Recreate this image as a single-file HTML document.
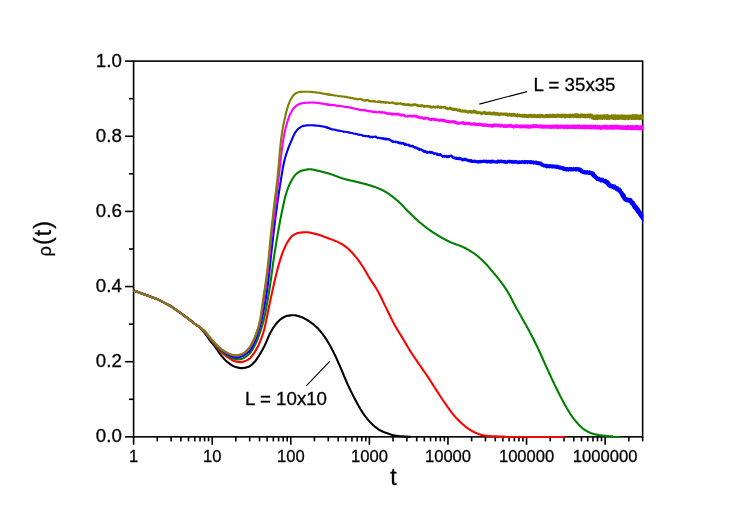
<!DOCTYPE html>
<html><head><meta charset="utf-8"><title>rho(t)</title>
<style>
html,body{margin:0;padding:0;background:#fff;}
body{width:747px;height:524px;overflow:hidden;}
svg{display:block;font-family:"Liberation Sans",sans-serif;}
.tx{stroke:#000;stroke-width:0.3px;filter:grayscale(1);}
</style></head>
<body>
<svg width="747" height="524" viewBox="0 0 747 524">
<rect x="0" y="0" width="747" height="524" fill="#ffffff"/>
<g stroke="#000" stroke-width="1.6" stroke-linecap="butt">
<rect x="133.60" y="61.10" width="509.04" height="375.75" fill="none"/>
<line x1="125.1" y1="436.85" x2="133.6" y2="436.85"/>
<line x1="129.0" y1="399.28" x2="133.6" y2="399.28"/>
<line x1="125.1" y1="361.70" x2="133.6" y2="361.70"/>
<line x1="129.0" y1="324.12" x2="133.6" y2="324.12"/>
<line x1="125.1" y1="286.55" x2="133.6" y2="286.55"/>
<line x1="129.0" y1="248.98" x2="133.6" y2="248.98"/>
<line x1="125.1" y1="211.40" x2="133.6" y2="211.40"/>
<line x1="129.0" y1="173.83" x2="133.6" y2="173.83"/>
<line x1="125.1" y1="136.25" x2="133.6" y2="136.25"/>
<line x1="129.0" y1="98.68" x2="133.6" y2="98.68"/>
<line x1="125.1" y1="61.10" x2="133.6" y2="61.10"/>
<line x1="133.60" y1="436.9" x2="133.60" y2="444.8"/>
<line x1="157.26" y1="436.9" x2="157.26" y2="441.4"/>
<line x1="171.10" y1="436.9" x2="171.10" y2="441.4"/>
<line x1="180.92" y1="436.9" x2="180.92" y2="441.4"/>
<line x1="188.53" y1="436.9" x2="188.53" y2="441.4"/>
<line x1="194.75" y1="436.9" x2="194.75" y2="441.4"/>
<line x1="200.02" y1="436.9" x2="200.02" y2="441.4"/>
<line x1="204.57" y1="436.9" x2="204.57" y2="441.4"/>
<line x1="208.59" y1="436.9" x2="208.59" y2="441.4"/>
<line x1="212.19" y1="436.9" x2="212.19" y2="444.8"/>
<line x1="235.85" y1="436.9" x2="235.85" y2="441.4"/>
<line x1="249.69" y1="436.9" x2="249.69" y2="441.4"/>
<line x1="259.51" y1="436.9" x2="259.51" y2="441.4"/>
<line x1="267.12" y1="436.9" x2="267.12" y2="441.4"/>
<line x1="273.34" y1="436.9" x2="273.34" y2="441.4"/>
<line x1="278.61" y1="436.9" x2="278.61" y2="441.4"/>
<line x1="283.16" y1="436.9" x2="283.16" y2="441.4"/>
<line x1="287.18" y1="436.9" x2="287.18" y2="441.4"/>
<line x1="290.78" y1="436.9" x2="290.78" y2="444.8"/>
<line x1="314.44" y1="436.9" x2="314.44" y2="441.4"/>
<line x1="328.28" y1="436.9" x2="328.28" y2="441.4"/>
<line x1="338.10" y1="436.9" x2="338.10" y2="441.4"/>
<line x1="345.71" y1="436.9" x2="345.71" y2="441.4"/>
<line x1="351.93" y1="436.9" x2="351.93" y2="441.4"/>
<line x1="357.20" y1="436.9" x2="357.20" y2="441.4"/>
<line x1="361.75" y1="436.9" x2="361.75" y2="441.4"/>
<line x1="365.77" y1="436.9" x2="365.77" y2="441.4"/>
<line x1="369.37" y1="436.9" x2="369.37" y2="444.8"/>
<line x1="393.03" y1="436.9" x2="393.03" y2="441.4"/>
<line x1="406.87" y1="436.9" x2="406.87" y2="441.4"/>
<line x1="416.69" y1="436.9" x2="416.69" y2="441.4"/>
<line x1="424.30" y1="436.9" x2="424.30" y2="441.4"/>
<line x1="430.52" y1="436.9" x2="430.52" y2="441.4"/>
<line x1="435.79" y1="436.9" x2="435.79" y2="441.4"/>
<line x1="440.34" y1="436.9" x2="440.34" y2="441.4"/>
<line x1="444.36" y1="436.9" x2="444.36" y2="441.4"/>
<line x1="447.96" y1="436.9" x2="447.96" y2="444.8"/>
<line x1="471.62" y1="436.9" x2="471.62" y2="441.4"/>
<line x1="485.46" y1="436.9" x2="485.46" y2="441.4"/>
<line x1="495.28" y1="436.9" x2="495.28" y2="441.4"/>
<line x1="502.89" y1="436.9" x2="502.89" y2="441.4"/>
<line x1="509.11" y1="436.9" x2="509.11" y2="441.4"/>
<line x1="514.38" y1="436.9" x2="514.38" y2="441.4"/>
<line x1="518.93" y1="436.9" x2="518.93" y2="441.4"/>
<line x1="522.95" y1="436.9" x2="522.95" y2="441.4"/>
<line x1="526.55" y1="436.9" x2="526.55" y2="444.8"/>
<line x1="550.21" y1="436.9" x2="550.21" y2="441.4"/>
<line x1="564.05" y1="436.9" x2="564.05" y2="441.4"/>
<line x1="573.87" y1="436.9" x2="573.87" y2="441.4"/>
<line x1="581.48" y1="436.9" x2="581.48" y2="441.4"/>
<line x1="587.70" y1="436.9" x2="587.70" y2="441.4"/>
<line x1="592.97" y1="436.9" x2="592.97" y2="441.4"/>
<line x1="597.52" y1="436.9" x2="597.52" y2="441.4"/>
<line x1="601.54" y1="436.9" x2="601.54" y2="441.4"/>
<line x1="605.14" y1="436.9" x2="605.14" y2="444.8"/>
<line x1="628.80" y1="436.9" x2="628.80" y2="441.4"/>
<line x1="642.64" y1="436.9" x2="642.64" y2="441.4"/>
</g>
<clipPath id="cp"><rect x="132.9" y="59.1" width="510.5" height="379.8"/></clipPath>
<g clip-path="url(#cp)">
<path d="M133.6,290.5 L156.9,298.9 L170.8,306.1 L180.6,313.0 L188.2,318.6 L194.4,323.5 L199.7,327.2 L204.3,332.5 L205.0,333.4 L205.5,334.1 L206.0,334.8 L206.5,335.5 L207.0,336.2 L207.5,337.0 L208.0,337.7 L208.5,338.4 L209.0,339.1 L209.5,339.8 L210.0,340.5 L210.5,341.1 L211.0,341.8 L211.5,342.4 L212.0,343.0 L212.5,343.6 L213.0,344.2 L213.5,344.8 L214.0,345.4 L214.5,346.1 L215.0,346.7 L215.5,347.4 L216.0,348.1 L216.5,348.8 L217.0,349.5 L217.5,350.3 L218.0,351.0 L218.5,351.7 L219.0,352.5 L219.5,353.2 L220.0,353.9 L220.5,354.6 L221.0,355.2 L221.5,355.9 L222.0,356.4 L222.5,357.0 L223.0,357.6 L223.5,358.2 L224.0,358.7 L224.5,359.2 L225.0,359.8 L225.5,360.3 L226.0,360.7 L226.5,361.2 L227.0,361.7 L227.5,362.1 L228.0,362.5 L228.5,362.9 L229.0,363.2 L229.5,363.6 L230.0,364.0 L230.5,364.3 L231.0,364.7 L231.5,365.0 L232.0,365.3 L232.5,365.6 L233.0,365.9 L233.5,366.2 L234.0,366.4 L234.5,366.6 L235.0,366.8 L235.5,366.9 L236.0,367.1 L236.5,367.2 L237.0,367.3 L237.5,367.5 L238.0,367.6 L238.5,367.7 L239.0,367.8 L239.5,367.9 L240.0,368.0 L240.5,368.0 L241.0,368.1 L241.5,368.1 L242.0,368.1 L242.5,368.1 L243.0,368.0 L243.5,368.0 L244.0,367.9 L244.5,367.8 L245.0,367.7 L245.5,367.6 L246.0,367.5 L246.5,367.4 L247.0,367.2 L247.5,367.1 L248.0,366.9 L248.5,366.8 L249.0,366.6 L249.5,366.3 L250.0,366.0 L250.5,365.7 L251.0,365.3 L251.5,364.9 L252.0,364.5 L252.5,364.0 L253.0,363.6 L253.5,363.1 L254.0,362.6 L254.5,362.1 L255.0,361.5 L255.5,360.8 L256.0,360.1 L256.5,359.4 L257.0,358.7 L257.5,357.9 L258.0,357.1 L258.5,356.3 L259.0,355.6 L259.5,354.8 L260.0,354.0 L260.5,353.1 L261.0,352.3 L261.5,351.5 L262.0,350.6 L262.5,349.7 L263.0,348.8 L263.5,347.8 L264.0,346.9 L264.5,345.9 L265.0,344.9 L265.5,343.8 L266.0,342.7 L266.5,341.5 L267.0,340.3 L267.5,339.1 L268.0,337.9 L268.5,336.7 L269.0,335.6 L269.5,334.5 L270.0,333.4 L270.5,332.5 L271.0,331.6 L271.5,330.7 L272.0,329.8 L272.5,329.0 L273.0,328.2 L273.5,327.4 L274.0,326.7 L274.5,326.0 L275.0,325.3 L275.5,324.6 L276.0,324.0 L276.5,323.4 L277.0,322.8 L277.5,322.3 L278.0,321.7 L278.5,321.2 L279.0,320.7 L279.5,320.2 L280.0,319.8 L280.5,319.4 L281.0,319.0 L281.5,318.6 L282.0,318.3 L282.5,318.0 L283.0,317.7 L283.5,317.4 L284.0,317.1 L284.5,316.8 L285.0,316.6 L285.5,316.4 L286.0,316.2 L286.5,316.0 L287.0,315.9 L287.5,315.8 L288.0,315.8 L288.5,315.7 L289.0,315.6 L289.5,315.5 L290.0,315.4 L290.5,315.4 L291.0,315.3 L291.5,315.3 L292.0,315.2 L292.5,315.2 L293.0,315.2 L293.5,315.2 L294.0,315.2 L294.5,315.3 L295.0,315.3 L295.5,315.4 L296.0,315.5 L296.5,315.6 L297.0,315.7 L297.5,315.8 L298.0,316.0 L298.5,316.1 L299.0,316.3 L299.5,316.4 L300.0,316.6 L300.5,316.7 L301.0,316.9 L301.5,317.1 L302.0,317.3 L302.5,317.5 L303.0,317.7 L303.5,318.0 L304.0,318.2 L304.5,318.5 L305.0,318.8 L305.5,319.1 L306.0,319.3 L306.5,319.6 L307.0,319.9 L307.5,320.2 L308.0,320.5 L308.5,320.8 L309.0,321.2 L309.5,321.5 L310.0,321.8 L310.5,322.2 L311.0,322.5 L311.5,322.9 L312.0,323.3 L312.5,323.6 L313.0,324.0 L313.5,324.4 L314.0,324.8 L314.5,325.3 L315.0,325.7 L315.5,326.2 L316.0,326.6 L316.5,327.1 L317.0,327.6 L317.5,328.1 L318.0,328.6 L318.5,329.1 L319.0,329.7 L319.5,330.2 L320.0,330.8 L320.5,331.4 L321.0,332.0 L321.5,332.7 L322.0,333.3 L322.5,333.9 L323.0,334.6 L323.5,335.3 L324.0,336.0 L324.5,336.7 L325.0,337.4 L325.5,338.1 L326.0,338.9 L326.5,339.6 L327.0,340.4 L327.5,341.3 L328.0,342.1 L328.5,342.9 L329.0,343.8 L329.5,344.7 L330.0,345.6 L330.5,346.5 L331.0,347.4 L331.5,348.3 L332.0,349.2 L332.5,350.2 L333.0,351.1 L333.5,352.1 L334.0,353.1 L334.5,354.2 L335.0,355.2 L335.5,356.3 L336.0,357.4 L336.5,358.5 L337.0,359.6 L337.5,360.7 L338.0,361.8 L338.5,363.0 L339.0,364.1 L339.5,365.2 L340.0,366.4 L340.5,367.5 L341.0,368.6 L341.5,369.8 L342.0,371.0 L342.5,372.1 L343.0,373.3 L343.5,374.5 L344.0,375.8 L344.5,377.0 L345.0,378.2 L345.5,379.3 L346.0,380.5 L346.5,381.7 L347.0,382.8 L347.5,384.0 L348.0,385.1 L348.5,386.1 L349.0,387.2 L349.5,388.3 L350.0,389.3 L350.5,390.4 L351.0,391.4 L351.5,392.4 L352.0,393.4 L352.5,394.4 L353.0,395.4 L353.5,396.4 L354.0,397.4 L354.5,398.3 L355.0,399.3 L355.5,400.2 L356.0,401.1 L356.5,402.0 L357.0,403.0 L357.5,403.9 L358.0,404.8 L358.5,405.7 L359.0,406.6 L359.5,407.4 L360.0,408.3 L360.5,409.2 L361.0,410.0 L361.5,410.8 L362.0,411.6 L362.5,412.4 L363.0,413.2 L363.5,413.9 L364.0,414.6 L364.5,415.3 L365.0,416.0 L365.5,416.6 L366.0,417.3 L366.5,417.9 L367.0,418.6 L367.5,419.2 L368.0,419.8 L368.5,420.3 L369.0,420.9 L369.5,421.5 L370.0,422.0 L370.5,422.5 L371.0,423.0 L371.5,423.5 L372.0,424.0 L372.5,424.5 L373.0,424.9 L373.5,425.4 L374.0,425.8 L374.5,426.3 L375.0,426.7 L375.5,427.1 L376.0,427.5 L376.5,427.9 L377.0,428.3 L377.5,428.7 L378.0,429.0 L378.5,429.4 L379.0,429.7 L379.5,430.0 L380.0,430.3 L380.5,430.6 L381.0,430.8 L381.5,431.0 L382.0,431.3 L382.5,431.5 L383.0,431.7 L383.5,431.9 L384.0,432.1 L384.5,432.3 L385.0,432.5 L385.5,432.7 L386.0,432.8 L386.5,433.0 L387.0,433.2 L387.5,433.4 L388.0,433.5 L388.5,433.7 L389.0,433.9 L389.5,434.1 L390.0,434.2 L390.5,434.4 L391.0,434.6 L391.5,434.8 L392.0,434.9 L392.5,435.1 L393.0,435.2 L393.5,435.3 L394.0,435.4 L394.5,435.5 L395.0,435.6 L395.5,435.7 L396.0,435.8 L396.5,435.8 L397.0,435.9 L397.5,436.0 L398.0,436.0 L398.5,436.1 L399.0,436.1 L399.5,436.2 L400.0,436.2 L400.5,436.2 L401.0,436.3 L401.5,436.3 L402.0,436.3 L402.5,436.4 L403.0,436.4 L403.5,436.4 L404.0,436.5 L404.5,436.5 L405.0,436.5 L405.5,436.5 L406.0,436.6 L406.5,436.6 L407.0,436.6 L407.5,436.6 L408.0,436.7 L408.5,436.7 L409.0,436.7 L409.5,436.8 L410.0,436.8 L410.5,436.8 L411.0,436.8" fill="none" stroke="#000000" stroke-width="2.1" stroke-linejoin="round" stroke-linecap="butt"/>
<path d="M133.6,290.5 L156.9,298.9 L170.8,306.1 L180.6,313.0 L188.2,318.6 L194.4,323.5 L199.7,327.2 L204.3,331.7 L205.0,332.5 L205.5,333.1 L206.0,333.7 L206.5,334.4 L207.0,335.1 L207.5,335.7 L208.0,336.4 L208.5,337.1 L209.0,337.7 L209.5,338.4 L210.0,339.0 L210.5,339.6 L211.0,340.2 L211.5,340.8 L212.0,341.4 L212.5,342.0 L213.0,342.6 L213.5,343.2 L214.0,343.8 L214.5,344.4 L215.0,345.0 L215.5,345.6 L216.0,346.2 L216.5,346.8 L217.0,347.4 L217.5,348.0 L218.0,348.5 L218.5,349.1 L219.0,349.7 L219.5,350.3 L220.0,350.8 L220.5,351.3 L221.0,351.8 L221.5,352.3 L222.0,352.8 L222.5,353.2 L223.0,353.7 L223.5,354.1 L224.0,354.5 L224.5,354.9 L225.0,355.3 L225.5,355.7 L226.0,356.0 L226.5,356.4 L227.0,356.8 L227.5,357.1 L228.0,357.4 L228.5,357.8 L229.0,358.1 L229.5,358.4 L230.0,358.8 L230.5,359.1 L231.0,359.4 L231.5,359.7 L232.0,360.0 L232.5,360.3 L233.0,360.6 L233.5,360.8 L234.0,361.0 L234.5,361.2 L235.0,361.3 L235.5,361.4 L236.0,361.5 L236.5,361.6 L237.0,361.7 L237.5,361.8 L238.0,361.9 L238.5,362.0 L239.0,362.0 L239.5,362.1 L240.0,362.1 L240.5,362.1 L241.0,362.1 L241.5,362.0 L242.0,362.0 L242.5,361.9 L243.0,361.7 L243.5,361.6 L244.0,361.4 L244.5,361.2 L245.0,361.1 L245.5,360.8 L246.0,360.6 L246.5,360.4 L247.0,360.1 L247.5,359.9 L248.0,359.6 L248.5,359.3 L249.0,359.0 L249.5,358.6 L250.0,358.2 L250.5,357.7 L251.0,357.1 L251.5,356.5 L252.0,355.9 L252.5,355.2 L253.0,354.5 L253.5,353.8 L254.0,353.1 L254.5,352.3 L255.0,351.6 L255.5,350.8 L256.0,349.9 L256.5,349.1 L257.0,348.1 L257.5,347.2 L258.0,346.1 L258.5,345.1 L259.0,344.0 L259.5,342.8 L260.0,341.7 L260.5,340.5 L261.0,339.2 L261.5,337.9 L262.0,336.5 L262.5,335.0 L263.0,333.5 L263.5,331.9 L264.0,330.2 L264.5,328.3 L265.0,326.2 L265.5,323.9 L266.0,321.4 L266.5,319.1 L267.0,316.7 L267.5,314.2 L268.0,311.8 L268.5,309.3 L269.0,306.8 L269.5,304.4 L270.0,302.1 L270.5,299.7 L271.0,297.3 L271.5,295.0 L272.0,292.7 L272.5,290.4 L273.0,288.1 L273.5,285.9 L274.0,283.7 L274.5,281.5 L275.0,279.4 L275.5,277.3 L276.0,275.2 L276.5,273.2 L277.0,271.2 L277.5,269.2 L278.0,267.3 L278.5,265.5 L279.0,263.8 L279.5,262.1 L280.0,260.4 L280.5,258.8 L281.0,257.3 L281.5,255.8 L282.0,254.3 L282.5,252.9 L283.0,251.6 L283.5,250.4 L284.0,249.2 L284.5,248.1 L285.0,247.0 L285.5,245.9 L286.0,244.9 L286.5,243.9 L287.0,243.0 L287.5,242.2 L288.0,241.4 L288.5,240.6 L289.0,239.8 L289.5,239.1 L290.0,238.4 L290.5,237.7 L291.0,237.1 L291.5,236.5 L292.0,236.0 L292.5,235.6 L293.0,235.3 L293.5,235.0 L294.0,234.7 L294.5,234.4 L295.0,234.2 L295.5,233.9 L296.0,233.7 L296.5,233.5 L297.0,233.3 L297.5,233.1 L298.0,233.0 L298.5,232.9 L299.0,232.8 L299.5,232.7 L300.0,232.7 L300.5,232.6 L301.0,232.6 L301.5,232.5 L302.0,232.5 L302.5,232.4 L303.0,232.4 L303.5,232.4 L304.0,232.4 L304.5,232.3 L305.0,232.3 L305.5,232.3 L306.0,232.3 L306.5,232.3 L307.0,232.3 L307.5,232.3 L308.0,232.4 L308.5,232.4 L309.0,232.5 L309.5,232.6 L310.0,232.6 L310.5,232.7 L311.0,232.8 L311.5,232.9 L312.0,233.1 L312.5,233.2 L313.0,233.3 L313.5,233.4 L314.0,233.5 L314.5,233.6 L315.0,233.8 L315.5,233.9 L316.0,234.0 L316.5,234.1 L317.0,234.3 L317.5,234.4 L318.0,234.5 L318.5,234.7 L319.0,234.9 L319.5,235.0 L320.0,235.2 L320.5,235.4 L321.0,235.5 L321.5,235.7 L322.0,235.9 L322.5,236.1 L323.0,236.3 L323.5,236.5 L324.0,236.7 L324.5,236.9 L325.0,237.1 L325.5,237.2 L326.0,237.4 L326.5,237.6 L327.0,237.8 L327.5,238.0 L328.0,238.2 L328.5,238.3 L329.0,238.5 L329.5,238.7 L330.0,238.9 L330.5,239.1 L331.0,239.2 L331.5,239.4 L332.0,239.6 L332.5,239.8 L333.0,240.0 L333.5,240.2 L334.0,240.4 L334.5,240.6 L335.0,240.8 L335.5,241.0 L336.0,241.2 L336.5,241.4 L337.0,241.6 L337.5,241.9 L338.0,242.1 L338.5,242.3 L339.0,242.6 L339.5,242.8 L340.0,243.1 L340.5,243.4 L341.0,243.7 L341.5,243.9 L342.0,244.2 L342.5,244.5 L343.0,244.8 L343.5,245.2 L344.0,245.5 L344.5,245.8 L345.0,246.2 L345.5,246.5 L346.0,246.9 L346.5,247.3 L347.0,247.7 L347.5,248.1 L348.0,248.5 L348.5,249.0 L349.0,249.5 L349.5,250.0 L350.0,250.5 L350.5,251.0 L351.0,251.5 L351.5,252.0 L352.0,252.6 L352.5,253.1 L353.0,253.7 L353.5,254.2 L354.0,254.8 L354.5,255.4 L355.0,255.9 L355.5,256.6 L356.0,257.2 L356.5,257.8 L357.0,258.4 L357.5,259.1 L358.0,259.8 L358.5,260.4 L359.0,261.1 L359.5,261.8 L360.0,262.5 L360.5,263.3 L361.0,264.0 L361.5,264.7 L362.0,265.5 L362.5,266.2 L363.0,267.0 L363.5,267.8 L364.0,268.6 L364.5,269.4 L365.0,270.3 L365.5,271.1 L366.0,272.0 L366.5,272.9 L367.0,273.7 L367.5,274.6 L368.0,275.5 L368.5,276.3 L369.0,277.2 L369.5,278.0 L370.0,278.8 L370.5,279.6 L371.0,280.4 L371.5,281.2 L372.0,281.9 L372.5,282.7 L373.0,283.4 L373.5,284.2 L374.0,284.9 L374.5,285.7 L375.0,286.4 L375.5,287.2 L376.0,288.0 L376.5,288.8 L377.0,289.7 L377.5,290.5 L378.0,291.4 L378.5,292.4 L379.0,293.3 L379.5,294.3 L380.0,295.3 L380.5,296.3 L381.0,297.3 L381.5,298.3 L382.0,299.3 L382.5,300.4 L383.0,301.4 L383.5,302.5 L384.0,303.5 L384.5,304.6 L385.0,305.6 L385.5,306.6 L386.0,307.6 L386.5,308.6 L387.0,309.6 L387.5,310.7 L388.0,311.7 L388.5,312.7 L389.0,313.8 L389.5,314.8 L390.0,315.8 L390.5,316.9 L391.0,317.9 L391.5,318.9 L392.0,319.9 L392.5,320.9 L393.0,321.9 L393.5,322.8 L394.0,323.7 L394.5,324.7 L395.0,325.6 L395.5,326.4 L396.0,327.3 L396.5,328.2 L397.0,329.0 L397.5,329.9 L398.0,330.7 L398.5,331.5 L399.0,332.3 L399.5,333.1 L400.0,334.0 L400.5,334.8 L401.0,335.6 L401.5,336.4 L402.0,337.2 L402.5,338.0 L403.0,338.9 L403.5,339.7 L404.0,340.5 L404.5,341.4 L405.0,342.2 L405.5,343.1 L406.0,343.9 L406.5,344.8 L407.0,345.6 L407.5,346.5 L408.0,347.3 L408.5,348.1 L409.0,349.0 L409.5,349.8 L410.0,350.6 L410.5,351.4 L411.0,352.2 L411.5,353.0 L412.0,353.8 L412.5,354.5 L413.0,355.3 L413.5,356.0 L414.0,356.8 L414.5,357.5 L415.0,358.2 L415.5,359.0 L416.0,359.7 L416.5,360.4 L417.0,361.1 L417.5,361.8 L418.0,362.6 L418.5,363.3 L419.0,364.0 L419.5,364.7 L420.0,365.5 L420.5,366.2 L421.0,366.9 L421.5,367.6 L422.0,368.4 L422.5,369.1 L423.0,369.8 L423.5,370.5 L424.0,371.3 L424.5,372.0 L425.0,372.7 L425.5,373.5 L426.0,374.2 L426.5,374.9 L427.0,375.7 L427.5,376.4 L428.0,377.1 L428.5,377.9 L429.0,378.7 L429.5,379.4 L430.0,380.2 L430.5,381.0 L431.0,381.7 L431.5,382.5 L432.0,383.3 L432.5,384.1 L433.0,384.9 L433.5,385.7 L434.0,386.5 L434.5,387.2 L435.0,388.0 L435.5,388.8 L436.0,389.6 L436.5,390.4 L437.0,391.1 L437.5,391.9 L438.0,392.7 L438.5,393.4 L439.0,394.2 L439.5,395.0 L440.0,395.7 L440.5,396.5 L441.0,397.3 L441.5,398.0 L442.0,398.8 L442.5,399.5 L443.0,400.3 L443.5,401.0 L444.0,401.8 L444.5,402.5 L445.0,403.2 L445.5,403.9 L446.0,404.6 L446.5,405.4 L447.0,406.1 L447.5,406.8 L448.0,407.5 L448.5,408.2 L449.0,408.9 L449.5,409.6 L450.0,410.3 L450.5,411.0 L451.0,411.6 L451.5,412.3 L452.0,413.0 L452.5,413.6 L453.0,414.2 L453.5,414.8 L454.0,415.4 L454.5,416.0 L455.0,416.6 L455.5,417.1 L456.0,417.7 L456.5,418.2 L457.0,418.8 L457.5,419.3 L458.0,419.8 L458.5,420.3 L459.0,420.8 L459.5,421.3 L460.0,421.8 L460.5,422.3 L461.0,422.7 L461.5,423.2 L462.0,423.6 L462.5,424.1 L463.0,424.5 L463.5,424.9 L464.0,425.3 L464.5,425.8 L465.0,426.2 L465.5,426.6 L466.0,427.0 L466.5,427.4 L467.0,427.8 L467.5,428.1 L468.0,428.5 L468.5,428.8 L469.0,429.2 L469.5,429.5 L470.0,429.8 L470.5,430.1 L471.0,430.4 L471.5,430.7 L472.0,431.0 L472.5,431.3 L473.0,431.5 L473.5,431.8 L474.0,432.1 L474.5,432.3 L475.0,432.6 L475.5,432.8 L476.0,433.0 L476.5,433.2 L477.0,433.4 L477.5,433.6 L478.0,433.8 L478.5,434.0 L479.0,434.1 L479.5,434.3 L480.0,434.5 L480.5,434.6 L481.0,434.8 L481.5,434.9 L482.0,435.0 L482.5,435.2 L483.0,435.3 L483.5,435.4 L484.0,435.5 L484.5,435.6 L485.0,435.7 L485.5,435.7 L486.0,435.8 L486.5,435.8 L487.0,435.9 L487.5,435.9 L488.0,436.0 L488.5,436.0 L489.0,436.1 L489.5,436.1 L490.0,436.1 L490.5,436.2 L491.0,436.2 L491.5,436.2 L492.0,436.2 L492.5,436.3 L493.0,436.3 L493.5,436.3 L494.0,436.3 L494.5,436.4 L495.0,436.4 L495.5,436.4 L496.0,436.4 L496.5,436.4 L497.0,436.4 L497.5,436.5 L498.0,436.5 L498.5,436.5 L499.0,436.5 L499.5,436.5 L500.0,436.5 L500.5,436.5 L501.0,436.5 L501.5,436.6 L502.0,436.6 L502.5,436.6 L503.0,436.6 L503.5,436.6 L504.0,436.6 L504.5,436.6 L505.0,436.6" fill="none" stroke="#ff0000" stroke-width="2.1" stroke-linejoin="round" stroke-linecap="butt"/>
<path d="M133.6,290.5 L156.9,298.9 L170.8,306.1 L180.6,313.0 L188.2,318.6 L194.4,323.5 L199.7,327.2 L204.3,331.3 L205.0,332.1 L205.5,332.6 L206.0,333.3 L206.5,333.9 L207.0,334.5 L207.5,335.2 L208.0,335.9 L208.5,336.5 L209.0,337.2 L209.5,337.8 L210.0,338.4 L210.5,339.0 L211.0,339.6 L211.5,340.2 L212.0,340.8 L212.5,341.4 L213.0,342.0 L213.5,342.5 L214.0,343.1 L214.5,343.7 L215.0,344.2 L215.5,344.7 L216.0,345.3 L216.5,345.8 L217.0,346.4 L217.5,346.9 L218.0,347.4 L218.5,347.9 L219.0,348.5 L219.5,349.0 L220.0,349.4 L220.5,349.9 L221.0,350.4 L221.5,350.8 L222.0,351.3 L222.5,351.7 L223.0,352.1 L223.5,352.5 L224.0,352.9 L224.5,353.3 L225.0,353.7 L225.5,354.1 L226.0,354.4 L226.5,354.8 L227.0,355.1 L227.5,355.4 L228.0,355.8 L228.5,356.1 L229.0,356.4 L229.5,356.7 L230.0,357.0 L230.5,357.3 L231.0,357.6 L231.5,357.8 L232.0,358.1 L232.5,358.3 L233.0,358.5 L233.5,358.7 L234.0,358.8 L234.5,358.9 L235.0,359.0 L235.5,359.1 L236.0,359.1 L236.5,359.2 L237.0,359.3 L237.5,359.3 L238.0,359.4 L238.5,359.4 L239.0,359.4 L239.5,359.4 L240.0,359.3 L240.5,359.3 L241.0,359.1 L241.5,359.0 L242.0,358.8 L242.5,358.6 L243.0,358.4 L243.5,358.1 L244.0,357.8 L244.5,357.5 L245.0,357.2 L245.5,356.9 L246.0,356.5 L246.5,356.1 L247.0,355.8 L247.5,355.4 L248.0,355.0 L248.5,354.6 L249.0,354.2 L249.5,353.7 L250.0,353.1 L250.5,352.5 L251.0,351.8 L251.5,351.0 L252.0,350.2 L252.5,349.4 L253.0,348.6 L253.5,347.7 L254.0,346.8 L254.5,345.8 L255.0,344.9 L255.5,343.9 L256.0,342.9 L256.5,341.8 L257.0,340.6 L257.5,339.4 L258.0,338.1 L258.5,336.8 L259.0,335.4 L259.5,334.0 L260.0,332.6 L260.5,331.1 L261.0,329.6 L261.5,328.0 L262.0,326.3 L262.5,324.6 L263.0,322.8 L263.5,320.9 L264.0,318.8 L264.5,316.7 L265.0,314.4 L265.5,312.0 L266.0,309.4 L266.5,306.7 L267.0,303.9 L267.5,301.0 L268.0,298.1 L268.5,295.0 L269.0,292.0 L269.5,288.9 L270.0,285.7 L270.5,282.4 L271.0,278.9 L271.5,275.2 L272.0,271.5 L272.5,267.8 L273.0,264.1 L273.5,260.5 L274.0,257.0 L274.5,253.7 L275.0,250.5 L275.5,247.4 L276.0,244.3 L276.5,241.3 L277.0,238.3 L277.5,235.4 L278.0,232.5 L278.5,229.7 L279.0,226.9 L279.5,224.2 L280.0,221.5 L280.5,218.9 L281.0,216.4 L281.5,213.9 L282.0,211.4 L282.5,209.1 L283.0,206.7 L283.5,204.3 L284.0,202.0 L284.5,199.8 L285.0,197.7 L285.5,195.8 L286.0,194.1 L286.5,192.5 L287.0,191.0 L287.5,189.6 L288.0,188.2 L288.5,186.9 L289.0,185.7 L289.5,184.6 L290.0,183.5 L290.5,182.5 L291.0,181.5 L291.5,180.6 L292.0,179.7 L292.5,178.8 L293.0,178.0 L293.5,177.2 L294.0,176.5 L294.5,175.8 L295.0,175.2 L295.5,174.7 L296.0,174.2 L296.5,173.8 L297.0,173.4 L297.5,173.0 L298.0,172.6 L298.5,172.3 L299.0,172.0 L299.5,171.7 L300.0,171.4 L300.5,171.2 L301.0,171.0 L301.5,170.8 L302.0,170.6 L302.5,170.5 L303.0,170.4 L303.5,170.2 L304.0,170.1 L304.5,170.0 L305.0,169.9 L305.5,169.8 L306.0,169.7 L306.5,169.6 L307.0,169.5 L307.5,169.4 L308.0,169.4 L308.5,169.3 L309.0,169.3 L309.5,169.3 L310.0,169.3 L310.5,169.3 L311.0,169.4 L311.5,169.4 L312.0,169.5 L312.5,169.5 L313.0,169.6 L313.5,169.7 L314.0,169.8 L314.5,169.9 L315.0,170.0 L315.5,170.1 L316.0,170.3 L316.5,170.4 L317.0,170.5 L317.5,170.6 L318.0,170.8 L318.5,170.9 L319.0,171.0 L319.5,171.1 L320.0,171.2 L320.5,171.3 L321.0,171.4 L321.5,171.6 L322.0,171.7 L322.5,171.8 L323.0,171.9 L323.5,172.1 L324.0,172.2 L324.5,172.3 L325.0,172.5 L325.5,172.6 L326.0,172.7 L326.5,172.9 L327.0,173.0 L327.5,173.2 L328.0,173.3 L328.5,173.4 L329.0,173.6 L329.5,173.7 L330.0,173.9 L330.5,174.1 L331.0,174.2 L331.5,174.4 L332.0,174.6 L332.5,174.7 L333.0,174.9 L333.5,175.1 L334.0,175.3 L334.5,175.5 L335.0,175.7 L335.5,175.9 L336.0,176.1 L336.5,176.2 L337.0,176.4 L337.5,176.6 L338.0,176.8 L338.5,177.0 L339.0,177.2 L339.5,177.4 L340.0,177.6 L340.5,177.8 L341.0,177.9 L341.5,178.1 L342.0,178.3 L342.5,178.4 L343.0,178.6 L343.5,178.7 L344.0,178.9 L344.5,179.0 L345.0,179.1 L345.5,179.3 L346.0,179.4 L346.5,179.5 L347.0,179.6 L347.5,179.8 L348.0,179.9 L348.5,180.0 L349.0,180.1 L349.5,180.2 L350.0,180.4 L350.5,180.5 L351.0,180.6 L351.5,180.7 L352.0,180.8 L352.5,180.9 L353.0,181.0 L353.5,181.1 L354.0,181.3 L354.5,181.4 L355.0,181.5 L355.5,181.6 L356.0,181.7 L356.5,181.9 L357.0,182.0 L357.5,182.1 L358.0,182.2 L358.5,182.3 L359.0,182.5 L359.5,182.6 L360.0,182.7 L360.5,182.8 L361.0,183.0 L361.5,183.1 L362.0,183.2 L362.5,183.3 L363.0,183.4 L363.5,183.6 L364.0,183.7 L364.5,183.8 L365.0,184.0 L365.5,184.1 L366.0,184.2 L366.5,184.3 L367.0,184.5 L367.5,184.6 L368.0,184.8 L368.5,184.9 L369.0,185.1 L369.5,185.2 L370.0,185.4 L370.5,185.5 L371.0,185.7 L371.5,185.8 L372.0,186.0 L372.5,186.2 L373.0,186.3 L373.5,186.5 L374.0,186.7 L374.5,186.9 L375.0,187.1 L375.5,187.2 L376.0,187.4 L376.5,187.6 L377.0,187.8 L377.5,188.0 L378.0,188.2 L378.5,188.4 L379.0,188.6 L379.5,188.8 L380.0,189.0 L380.5,189.3 L381.0,189.5 L381.5,189.7 L382.0,190.0 L382.5,190.2 L383.0,190.4 L383.5,190.7 L384.0,191.0 L384.5,191.2 L385.0,191.5 L385.5,191.8 L386.0,192.1 L386.5,192.4 L387.0,192.7 L387.5,193.0 L388.0,193.4 L388.5,193.7 L389.0,194.0 L389.5,194.4 L390.0,194.8 L390.5,195.1 L391.0,195.5 L391.5,195.9 L392.0,196.2 L392.5,196.6 L393.0,197.0 L393.5,197.4 L394.0,197.8 L394.5,198.2 L395.0,198.6 L395.5,199.0 L396.0,199.4 L396.5,199.9 L397.0,200.3 L397.5,200.7 L398.0,201.1 L398.5,201.6 L399.0,202.1 L399.5,202.5 L400.0,203.0 L400.5,203.5 L401.0,204.0 L401.5,204.5 L402.0,205.0 L402.5,205.6 L403.0,206.1 L403.5,206.6 L404.0,207.1 L404.5,207.7 L405.0,208.2 L405.5,208.7 L406.0,209.3 L406.5,209.8 L407.0,210.3 L407.5,210.8 L408.0,211.3 L408.5,211.8 L409.0,212.3 L409.5,212.8 L410.0,213.3 L410.5,213.8 L411.0,214.3 L411.5,214.7 L412.0,215.2 L412.5,215.7 L413.0,216.1 L413.5,216.6 L414.0,217.1 L414.5,217.6 L415.0,218.0 L415.5,218.5 L416.0,218.9 L416.5,219.4 L417.0,219.9 L417.5,220.3 L418.0,220.8 L418.5,221.2 L419.0,221.7 L419.5,222.1 L420.0,222.5 L420.5,223.0 L421.0,223.4 L421.5,223.8 L422.0,224.2 L422.5,224.6 L423.0,225.0 L423.5,225.4 L424.0,225.8 L424.5,226.2 L425.0,226.6 L425.5,227.0 L426.0,227.3 L426.5,227.7 L427.0,228.1 L427.5,228.5 L428.0,228.8 L428.5,229.2 L429.0,229.6 L429.5,229.9 L430.0,230.3 L430.5,230.6 L431.0,231.0 L431.5,231.3 L432.0,231.6 L432.5,232.0 L433.0,232.3 L433.5,232.6 L434.0,233.0 L434.5,233.3 L435.0,233.6 L435.5,233.9 L436.0,234.2 L436.5,234.6 L437.0,234.9 L437.5,235.2 L438.0,235.5 L438.5,235.8 L439.0,236.1 L439.5,236.4 L440.0,236.7 L440.5,237.0 L441.0,237.2 L441.5,237.5 L442.0,237.8 L442.5,238.1 L443.0,238.4 L443.5,238.7 L444.0,238.9 L444.5,239.2 L445.0,239.5 L445.5,239.7 L446.0,240.0 L446.5,240.3 L447.0,240.5 L447.5,240.8 L448.0,241.0 L448.5,241.3 L449.0,241.5 L449.5,241.7 L450.0,242.0 L450.5,242.2 L451.0,242.4 L451.5,242.6 L452.0,242.8 L452.5,243.0 L453.0,243.2 L453.5,243.4 L454.0,243.6 L454.5,243.8 L455.0,244.0 L455.5,244.2 L456.0,244.4 L456.5,244.5 L457.0,244.7 L457.5,244.9 L458.0,245.1 L458.5,245.3 L459.0,245.4 L459.5,245.6 L460.0,245.8 L460.5,246.0 L461.0,246.2 L461.5,246.4 L462.0,246.6 L462.5,246.9 L463.0,247.1 L463.5,247.3 L464.0,247.5 L464.5,247.8 L465.0,248.0 L465.5,248.3 L466.0,248.5 L466.5,248.8 L467.0,249.1 L467.5,249.4 L468.0,249.6 L468.5,249.9 L469.0,250.2 L469.5,250.5 L470.0,250.8 L470.5,251.1 L471.0,251.4 L471.5,251.7 L472.0,252.1 L472.5,252.4 L473.0,252.7 L473.5,253.0 L474.0,253.4 L474.5,253.7 L475.0,254.1 L475.5,254.5 L476.0,254.8 L476.5,255.2 L477.0,255.6 L477.5,256.0 L478.0,256.4 L478.5,256.9 L479.0,257.3 L479.5,257.7 L480.0,258.2 L480.5,258.6 L481.0,259.1 L481.5,259.5 L482.0,260.0 L482.5,260.5 L483.0,260.9 L483.5,261.4 L484.0,261.9 L484.5,262.4 L485.0,262.9 L485.5,263.4 L486.0,263.9 L486.5,264.5 L487.0,265.0 L487.5,265.6 L488.0,266.2 L488.5,266.8 L489.0,267.4 L489.5,268.0 L490.0,268.6 L490.5,269.2 L491.0,269.8 L491.5,270.4 L492.0,271.0 L492.5,271.6 L493.0,272.2 L493.5,272.8 L494.0,273.4 L494.5,273.9 L495.0,274.5 L495.5,275.1 L496.0,275.7 L496.5,276.3 L497.0,276.9 L497.5,277.5 L498.0,278.1 L498.5,278.8 L499.0,279.4 L499.5,280.1 L500.0,280.7 L500.5,281.4 L501.0,282.0 L501.5,282.7 L502.0,283.4 L502.5,284.1 L503.0,284.7 L503.5,285.4 L504.0,286.1 L504.5,286.9 L505.0,287.6 L505.5,288.3 L506.0,289.1 L506.5,289.9 L507.0,290.6 L507.5,291.4 L508.0,292.3 L508.5,293.1 L509.0,294.0 L509.5,294.9 L510.0,295.8 L510.5,296.8 L511.0,297.8 L511.5,298.7 L512.0,299.7 L512.5,300.7 L513.0,301.7 L513.5,302.7 L514.0,303.6 L514.5,304.6 L515.0,305.5 L515.5,306.4 L516.0,307.4 L516.5,308.3 L517.0,309.1 L517.5,310.0 L518.0,310.9 L518.5,311.8 L519.0,312.7 L519.5,313.6 L520.0,314.5 L520.5,315.3 L521.0,316.2 L521.5,317.1 L522.0,318.0 L522.5,318.9 L523.0,319.8 L523.5,320.7 L524.0,321.6 L524.5,322.5 L525.0,323.4 L525.5,324.2 L526.0,325.1 L526.5,326.0 L527.0,326.9 L527.5,327.8 L528.0,328.8 L528.5,329.7 L529.0,330.6 L529.5,331.5 L530.0,332.5 L530.5,333.4 L531.0,334.4 L531.5,335.3 L532.0,336.3 L532.5,337.3 L533.0,338.2 L533.5,339.2 L534.0,340.2 L534.5,341.2 L535.0,342.2 L535.5,343.2 L536.0,344.2 L536.5,345.3 L537.0,346.3 L537.5,347.3 L538.0,348.4 L538.5,349.4 L539.0,350.5 L539.5,351.6 L540.0,352.7 L540.5,353.8 L541.0,354.9 L541.5,356.0 L542.0,357.1 L542.5,358.3 L543.0,359.4 L543.5,360.5 L544.0,361.6 L544.5,362.7 L545.0,363.9 L545.5,365.0 L546.0,366.1 L546.5,367.2 L547.0,368.3 L547.5,369.4 L548.0,370.5 L548.5,371.5 L549.0,372.6 L549.5,373.7 L550.0,374.8 L550.5,375.9 L551.0,377.0 L551.5,378.1 L552.0,379.1 L552.5,380.2 L553.0,381.3 L553.5,382.3 L554.0,383.4 L554.5,384.4 L555.0,385.4 L555.5,386.5 L556.0,387.5 L556.5,388.5 L557.0,389.5 L557.5,390.5 L558.0,391.5 L558.5,392.5 L559.0,393.5 L559.5,394.5 L560.0,395.5 L560.5,396.4 L561.0,397.4 L561.5,398.4 L562.0,399.3 L562.5,400.3 L563.0,401.2 L563.5,402.1 L564.0,403.1 L564.5,404.0 L565.0,404.9 L565.5,405.8 L566.0,406.7 L566.5,407.6 L567.0,408.5 L567.5,409.3 L568.0,410.1 L568.5,410.9 L569.0,411.7 L569.5,412.5 L570.0,413.3 L570.5,414.1 L571.0,414.8 L571.5,415.6 L572.0,416.3 L572.5,417.0 L573.0,417.7 L573.5,418.4 L574.0,419.1 L574.5,419.7 L575.0,420.4 L575.5,421.0 L576.0,421.6 L576.5,422.1 L577.0,422.7 L577.5,423.3 L578.0,423.8 L578.5,424.4 L579.0,424.9 L579.5,425.4 L580.0,425.9 L580.5,426.4 L581.0,426.9 L581.5,427.3 L582.0,427.8 L582.5,428.2 L583.0,428.6 L583.5,429.0 L584.0,429.3 L584.5,429.7 L585.0,430.0 L585.5,430.3 L586.0,430.6 L586.5,430.9 L587.0,431.2 L587.5,431.5 L588.0,431.7 L588.5,432.0 L589.0,432.2 L589.5,432.4 L590.0,432.7 L590.5,432.9 L591.0,433.1 L591.5,433.3 L592.0,433.5 L592.5,433.7 L593.0,433.8 L593.5,433.9 L594.0,434.1 L594.5,434.2 L595.0,434.3 L595.5,434.4 L596.0,434.5 L596.5,434.6 L597.0,434.7 L597.5,434.8 L598.0,434.9 L598.5,435.0 L599.0,435.1 L599.5,435.2 L600.0,435.3 L600.5,435.3 L601.0,435.4 L601.5,435.5 L602.0,435.5 L602.5,435.6 L603.0,435.6 L603.5,435.7 L604.0,435.7 L604.5,435.8 L605.0,435.8 L605.5,435.9 L606.0,435.9 L606.5,436.0 L607.0,436.0 L607.5,436.0 L608.0,436.1 L608.5,436.1 L609.0,436.2 L609.5,436.2 L610.0,436.2 L610.5,436.3 L611.0,436.3 L611.5,436.3 L612.0,436.3 L612.5,436.4 L613.0,436.4" fill="none" stroke="#008000" stroke-width="2.1" stroke-linejoin="round" stroke-linecap="butt"/>
<line x1="612.5" y1="436.8" x2="619.9" y2="436.8" stroke="#008000" stroke-width="1.85"/>
<line x1="504.5" y1="436.8" x2="564.9" y2="436.8" stroke="#ff0000" stroke-width="1.85"/>
<path d="M133.6,290.5 L156.9,298.9 L170.8,306.1 L180.6,313.0 L188.2,318.6 L194.4,323.5 L199.7,327.2 L204.3,331.0 L205.0,331.7 L205.5,332.3 L206.0,332.9 L206.5,333.5 L207.0,334.2 L207.5,334.8 L208.0,335.5 L208.5,336.1 L209.0,336.8 L209.5,337.4 L210.0,338.0 L210.5,338.6 L211.0,339.2 L211.5,339.8 L212.0,340.4 L212.5,341.0 L213.0,341.6 L213.5,342.2 L214.0,342.7 L214.5,343.3 L215.0,343.8 L215.5,344.3 L216.0,344.8 L216.5,345.3 L217.0,345.8 L217.5,346.3 L218.0,346.8 L218.5,347.2 L219.0,347.7 L219.5,348.1 L220.0,348.6 L220.5,349.0 L221.0,349.4 L221.5,349.8 L222.0,350.2 L222.5,350.6 L223.0,351.0 L223.5,351.4 L224.0,351.8 L224.5,352.2 L225.0,352.6 L225.5,352.9 L226.0,353.3 L226.5,353.6 L227.0,354.0 L227.5,354.3 L228.0,354.6 L228.5,354.9 L229.0,355.1 L229.5,355.4 L230.0,355.7 L230.5,356.0 L231.0,356.2 L231.5,356.4 L232.0,356.6 L232.5,356.8 L233.0,356.9 L233.5,357.0 L234.0,357.1 L234.5,357.1 L235.0,357.2 L235.5,357.3 L236.0,357.3 L236.5,357.4 L237.0,357.4 L237.5,357.4 L238.0,357.4 L238.5,357.4 L239.0,357.3 L239.5,357.2 L240.0,357.1 L240.5,356.9 L241.0,356.7 L241.5,356.5 L242.0,356.3 L242.5,356.1 L243.0,355.8 L243.5,355.5 L244.0,355.2 L244.5,354.9 L245.0,354.6 L245.5,354.2 L246.0,353.9 L246.5,353.5 L247.0,353.1 L247.5,352.7 L248.0,352.3 L248.5,351.9 L249.0,351.4 L249.5,350.9 L250.0,350.3 L250.5,349.6 L251.0,348.8 L251.5,347.9 L252.0,347.1 L252.5,346.1 L253.0,345.1 L253.5,344.1 L254.0,343.1 L254.5,342.0 L255.0,340.9 L255.5,339.8 L256.0,338.6 L256.5,337.3 L257.0,335.9 L257.5,334.4 L258.0,332.9 L258.5,331.3 L259.0,329.6 L259.5,327.9 L260.0,326.1 L260.5,324.3 L261.0,322.4 L261.5,320.4 L262.0,318.2 L262.5,315.9 L263.0,313.5 L263.5,311.0 L264.0,308.4 L264.5,305.7 L265.0,302.9 L265.5,300.0 L266.0,297.0 L266.5,293.8 L267.0,290.5 L267.5,287.0 L268.0,283.2 L268.5,279.1 L269.0,274.7 L269.5,270.1 L270.0,265.3 L270.5,260.5 L271.0,255.8 L271.5,251.1 L272.0,246.7 L272.5,242.4 L273.0,238.1 L273.5,233.8 L274.0,229.6 L274.5,225.4 L275.0,221.3 L275.5,217.3 L276.0,213.3 L276.5,209.5 L277.0,205.8 L277.5,202.1 L278.0,198.6 L278.5,195.2 L279.0,191.8 L279.5,188.6 L280.0,185.5 L280.5,182.3 L281.0,179.2 L281.5,176.1 L282.0,173.0 L282.5,170.1 L283.0,167.3 L283.5,164.7 L284.0,162.3 L284.5,160.2 L285.0,158.3 L285.5,156.5 L286.0,154.9 L286.5,153.3 L287.0,151.8 L287.5,150.4 L288.0,149.0 L288.5,147.7 L289.0,146.4 L289.5,145.2 L290.0,144.0 L290.5,142.8 L291.0,141.6 L291.5,140.5 L292.0,139.3 L292.5,138.1 L293.0,136.9 L293.5,135.8 L294.0,134.8 L294.5,133.8 L295.0,132.9 L295.5,132.2 L296.0,131.4 L296.5,130.8 L297.0,130.2 L297.5,129.6 L298.0,129.1 L298.5,128.7 L299.0,128.3 L299.5,127.9 L300.0,127.6 L300.5,127.2 L301.0,126.9 L301.5,126.6 L302.0,126.4 L302.5,126.2 L303.0,126.0 L303.5,125.9 L304.0,125.8 L304.5,125.8 L305.0,125.7 L305.5,125.6 L306.0,125.5 L306.5,125.4 L307.0,125.4 L307.5,125.3 L308.0,125.3 L308.5,125.2 L309.0,125.2 L309.5,125.2 L310.0,125.2 L310.5,125.2 L311.0,125.2 L311.5,125.2 L312.0,125.3 L312.5,125.3 L313.0,125.3 L313.5,125.4 L314.0,125.4 L314.5,125.4 L315.0,125.5 L315.5,125.5 L316.0,125.6 L316.5,125.6 L317.0,125.7 L317.5,125.7 L318.0,125.8 L318.5,125.8 L319.0,125.9 L319.5,126.0 L320.0,126.0 L320.5,126.1 L321.0,126.2 L321.5,126.3 L322.0,126.3 L322.5,126.4 L323.0,126.5 L323.5,126.6 L324.0,126.7 L324.5,126.8 L325.0,126.9 L325.5,127.0 L326.0,127.2 L326.5,127.3 L327.0,127.5 L327.5,127.7 L328.0,127.9 L328.5,128.0 L329.0,128.2 L329.5,128.4 L330.0,128.6 L330.5,128.8 L331.0,129.0 L331.5,129.1 L332.0,129.3" fill="none" stroke="#0000ff" stroke-width="2.1" stroke-linejoin="round" stroke-linecap="butt"/>
<path d="M326.3,126.2 L326.8,126.3 L327.3,126.5 L327.9,126.7 L328.4,126.8 L328.9,127.0 L329.4,127.3 L329.9,127.5 L330.3,127.7 L330.8,127.9 L331.3,128.0 L331.8,128.2 L332.2,128.4 L332.8,128.4 L333.3,128.6 L333.8,128.4 L334.4,128.4 L334.8,128.7 L335.4,128.7 L335.8,128.8 L336.3,129.1 L336.8,129.3 L337.3,129.2 L337.8,129.5 L338.3,129.4 L338.7,129.8 L339.2,129.7 L339.8,129.6 L340.2,129.7 L340.7,130.2 L341.2,130.0 L341.7,130.2 L342.2,130.1 L342.6,130.5 L343.1,130.5 L343.7,130.4 L344.1,130.7 L344.6,130.7 L345.2,130.6 L345.6,130.9 L346.1,131.1 L346.6,131.0 L347.1,131.2 L347.6,131.3 L348.2,131.2 L348.7,131.1 L349.2,131.4 L349.7,131.5 L350.2,131.7 L350.7,131.7 L351.2,131.7 L351.7,131.9 L352.3,131.9 L352.7,132.1 L353.2,132.4 L353.7,132.4 L354.2,132.6 L354.7,132.9 L355.3,132.8 L355.8,132.7 L356.2,133.1 L356.8,132.9 L357.4,132.9 L357.8,133.2 L358.3,133.4 L358.8,133.6 L359.3,133.6 L359.8,133.7 L360.3,133.8 L360.7,134.0 L361.3,133.7 L361.8,133.7 L362.2,134.3 L362.7,134.5 L363.2,134.7 L363.7,134.4 L364.2,134.5 L364.6,135.0 L365.1,134.9 L365.6,135.1 L366.2,135.0 L366.7,134.7 L367.1,135.2 L367.6,135.2 L368.2,135.0 L368.7,135.1 L369.2,135.1 L369.6,135.4 L370.1,135.8 L370.6,135.8 L371.2,135.5 L371.6,135.7 L372.1,136.1 L372.7,135.7 L373.1,136.0 L373.7,135.6 L374.2,135.9 L374.8,135.3 L375.2,135.6 L375.7,135.5 L376.2,135.6 L376.7,136.0 L377.2,136.5 L377.6,136.7 L378.2,136.7 L378.6,136.8 L379.2,136.8 L379.7,137.0 L380.2,136.8 L380.7,137.0 L381.2,136.9 L381.7,137.2 L382.2,137.3 L382.8,137.1 L383.3,136.9 L383.8,137.4 L384.3,137.5 L384.9,137.4 L385.3,137.8 L385.9,137.6 L386.5,137.6 L386.9,138.0 L387.5,137.7 L388.0,138.0 L388.5,138.2 L389.1,138.2 L389.6,138.3 L390.1,138.3 L390.4,139.1 L391.0,139.0 L391.4,139.4 L391.8,139.9 L392.4,139.5 L392.9,140.0 L393.2,140.6 L393.9,140.2 L394.2,140.8 L394.7,140.8 L395.3,140.7 L395.9,140.3 L396.3,141.1 L397.0,140.5 L397.4,140.8 L397.8,141.2 L398.4,141.0 L398.9,141.3 L399.3,141.5 L399.9,141.7 L400.3,141.8 L400.9,141.6 L401.3,142.2 L402.0,141.8 L402.4,142.1 L403.0,141.9 L403.5,141.9 L404.1,142.0 L404.4,142.7 L404.9,142.8 L405.5,142.6 L406.0,142.9 L406.4,143.5 L407.0,143.2 L407.4,143.7 L407.9,143.7 L408.6,143.4 L409.0,143.7 L409.5,143.9 L410.0,144.2 L410.5,144.5 L410.9,144.9 L411.4,145.1 L412.0,144.6 L412.5,144.8 L413.1,144.9 L413.6,144.9 L414.0,145.6 L414.4,145.9 L414.9,146.1 L415.4,146.2 L416.0,146.0 L416.4,146.5 L416.9,146.7 L417.5,146.7 L417.9,147.2 L418.3,147.6 L418.9,147.4 L419.4,147.6 L419.8,148.1 L420.4,147.9 L420.8,148.4 L421.4,148.3 L421.9,148.4 L422.3,149.0 L422.8,149.2 L423.3,149.3 L423.8,149.5 L424.2,150.0 L424.8,149.7 L425.2,150.3 L425.9,149.7 L426.3,150.4 L426.7,150.7 L427.2,151.0 L427.8,150.7 L428.2,151.3 L428.9,151.0 L429.6,150.5 L430.2,150.4 L430.5,151.2 L431.1,150.9 L431.6,151.0 L432.2,151.0 L432.6,151.3 L433.1,151.4 L433.5,151.9 L434.0,152.2 L434.6,151.9 L435.0,152.4 L435.5,152.3 L436.1,152.2 L436.5,152.5 L437.0,152.7 L437.6,152.2 L437.9,152.9 L438.4,153.3 L439.0,153.0 L439.4,153.5 L439.9,153.3 L440.5,152.9 L441.0,153.1 L441.4,153.6 L441.8,154.3 L442.3,154.5 L442.7,155.0 L443.2,155.0 L443.7,155.1 L444.2,155.0 L444.8,154.5 L445.3,154.9 L445.8,154.9 L446.4,154.4 L446.8,155.1 L447.3,155.3 L447.7,155.6 L448.3,155.1 L448.8,155.0 L449.4,154.9 L449.9,154.5 L450.4,154.7 L450.9,154.5 L451.4,154.5 L451.9,154.6 L452.4,155.1 L452.8,155.5 L453.3,155.8 L453.7,156.4 L454.3,155.9 L454.7,156.7 L455.2,156.8 L455.7,156.5 L456.3,156.5 L456.8,156.6 L457.2,156.9 L457.7,157.1 L458.2,157.2 L458.8,156.6 L459.4,156.5 L459.8,157.2 L460.4,156.7 L460.8,157.2 L461.3,157.5 L461.8,157.6 L462.2,158.2 L462.7,158.1 L463.2,158.3 L463.8,157.7 L464.3,157.8 L464.9,157.4 L465.4,157.4 L465.8,158.0 L466.3,158.2 L466.9,157.8 L467.3,158.3 L467.7,158.9 L468.2,159.2 L468.8,158.6 L469.2,158.9 L469.7,159.3 L470.3,158.9 L470.8,158.9 L471.3,159.2 L471.8,159.0 L472.3,159.3 L472.6,160.0 L473.2,160.0 L473.7,159.8 L474.3,159.4 L474.7,159.6 L475.2,159.6 L475.7,159.9 L476.1,160.2 L476.7,159.8 L477.1,160.4 L477.6,159.8 L478.1,160.2 L478.5,160.1 L479.0,159.7 L479.5,159.9 L480.0,160.2 L480.5,159.8 L481.0,159.6 L481.5,160.1 L482.0,160.0 L482.5,160.1 L483.0,159.6 L483.5,159.6 L484.0,159.5 L484.5,159.7 L485.0,159.5 L485.5,160.0 L486.0,159.6 L486.5,159.6 L487.0,160.0 L487.5,160.0 L488.0,159.6 L488.5,160.0 L489.0,159.6 L489.5,160.1 L490.0,159.8 L490.5,160.1 L491.0,159.8 L491.5,159.4 L492.0,160.0 L492.5,159.3 L493.0,159.5 L493.5,159.7 L494.0,159.9 L494.5,160.3 L495.0,160.3 L495.5,160.2 L496.0,160.6 L496.5,160.1 L497.0,159.7 L497.5,159.6 L498.0,159.5 L498.5,159.5 L499.0,160.1 L499.5,159.5 L500.0,160.1 L500.5,159.4 L501.0,159.3 L501.5,159.5 L502.0,159.7 L502.5,160.0 L503.0,159.8 L503.5,160.0 L504.0,160.1 L504.5,160.1 L505.0,159.7 L505.6,159.7 L506.0,160.4 L506.5,160.5 L507.1,160.2 L507.6,160.1 L508.1,159.9 L508.6,159.5 L509.1,159.6 L509.6,159.7 L510.1,160.0 L510.6,159.7 L511.1,160.0 L511.6,159.9 L512.1,160.0 L512.6,159.8 L513.1,160.4 L513.6,160.1 L514.1,160.4 L514.6,159.8 L515.0,160.1 L515.5,160.0 L516.0,159.7 L516.5,159.9 L517.0,160.4 L517.5,160.5 L518.0,159.9 L518.5,160.8 L519.0,160.6 L519.5,160.0 L520.0,160.6 L520.5,160.4 L521.0,160.2 L521.5,160.3 L522.0,159.9 L522.5,159.9 L523.0,160.2 L523.5,160.4 L524.0,159.9 L524.5,159.8 L525.0,160.0 L525.5,160.3 L526.0,160.0 L526.5,160.0 L527.0,160.2 L527.5,159.9 L528.0,160.2 L528.5,160.1 L529.0,160.4 L529.5,160.0 L530.0,159.9 L530.5,160.0 L531.1,160.4 L531.6,159.9 L532.2,160.2 L532.7,160.4 L533.2,160.5 L533.8,160.3 L534.2,160.9 L534.8,160.6 L535.3,160.5 L535.9,160.7 L536.4,160.4 L536.9,160.8 L537.4,160.9 L537.9,161.2 L538.5,160.9 L538.9,161.4 L539.5,161.2 L540.1,161.6 L541.1,161.5 L541.8,161.8 L542.0,162.8 L543.0,162.5 L543.2,163.0 L543.4,163.6 L543.8,163.4 L543.8,163.8 L544.4,163.5 L544.8,163.9 L545.3,163.8 L545.7,163.9 L546.2,163.8 L546.7,163.7 L547.2,163.7 L547.6,164.2 L548.1,164.1 L548.6,164.6 L549.1,164.3 L549.6,163.8 L550.1,164.5 L550.6,163.9 L551.1,164.2 L551.6,164.5 L552.1,164.1 L552.6,164.5 L553.2,164.0 L553.6,164.7 L554.2,164.7 L554.7,164.3 L555.2,164.5 L555.7,164.8 L556.3,164.5 L556.8,164.8 L557.5,164.7 L558.2,164.7 L558.8,164.9 L559.2,165.6 L559.8,165.4 L560.3,165.2 L560.5,165.7 L561.0,165.6 L561.4,166.3 L562.1,165.8 L562.5,166.2 L563.0,166.0 L563.5,166.2 L564.0,166.2 L564.4,166.9 L564.9,166.5 L565.3,167.1 L565.8,167.1 L566.3,167.2 L566.7,167.0 L567.2,167.0 L567.7,166.8 L568.1,167.5 L568.5,167.3 L569.0,167.1 L569.5,166.8 L570.0,167.0 L570.5,167.0 L571.0,166.9 L571.5,166.9 L572.0,167.2 L572.5,167.4 L573.0,167.1 L573.5,166.7 L574.0,166.9 L574.5,167.4 L575.0,167.1 L575.5,167.1 L576.0,166.9 L576.5,167.0 L577.0,166.7 L577.7,167.2 L578.4,167.3 L579.2,167.3 L580.0,167.3 L580.6,167.7 L581.1,168.1 L581.8,168.2 L582.1,168.8 L582.8,168.7 L583.0,169.5 L583.3,169.9 L584.0,169.6 L584.1,170.1 L584.6,169.8 L584.8,170.0 L585.3,170.1 L585.7,170.4 L586.2,169.9 L586.7,170.5 L587.2,169.8 L587.7,169.9 L588.2,170.4 L588.7,170.6 L589.3,170.1 L589.8,170.4 L590.3,170.8 L590.9,170.5 L591.6,170.9 L592.6,171.2 L593.5,171.5 L594.3,171.9 L594.9,172.6 L595.1,173.5 L595.8,173.9 L596.3,174.5 L597.1,174.8 L597.0,175.8 L597.6,176.0 L598.2,176.0 L598.2,176.5 L598.4,176.8 L598.9,176.7 L599.3,177.0 L599.8,176.7 L600.1,177.5 L600.6,177.6 L601.0,177.8 L601.6,177.4 L602.0,177.9 L602.7,177.5 L603.2,177.7 L603.7,177.8 L604.1,178.5 L604.6,178.9 L605.3,178.8 L606.1,178.7 L606.6,179.1 L607.1,180.0 L608.2,180.2 L609.0,180.8 L609.6,181.4 L609.9,182.1 L610.4,182.5 L610.7,182.9 L610.7,183.3 L611.0,183.8 L611.6,183.5 L611.9,184.1 L612.4,184.0 L613.0,183.7 L613.4,184.2 L613.8,184.3 L614.5,184.2 L614.8,184.9 L615.5,184.6 L616.0,185.0 L616.4,185.7 L616.9,186.0 L617.4,186.5 L618.4,186.3 L618.7,187.1 L619.3,187.6 L620.3,187.6 L620.8,188.3 L621.3,188.9 L621.9,189.4 L622.0,190.4 L622.6,191.0 L623.3,191.4 L623.7,192.5 L624.5,193.2 L625.2,194.1 L625.7,195.1 L626.1,195.9 L626.2,196.9 L626.8,197.3 L627.3,197.0 L627.0,197.5 L627.4,197.3 L627.6,197.8 L628.2,197.2 L628.5,197.9 L629.1,197.8 L629.7,197.8 L630.5,197.9 L631.3,198.1 L632.1,198.8 L632.6,199.7 L633.1,200.6 L634.1,201.0 L634.8,201.5 L634.7,202.7 L635.7,203.0 L635.8,203.9 L636.3,204.4 L636.8,205.0 L637.4,205.6 L638.1,206.1 L638.5,206.9 L638.8,207.6 L639.5,208.1 L639.9,208.9 L640.4,209.7 L640.8,210.4 L641.4,211.1 L641.8,211.9 L642.3,212.7 L642.8,213.5 L643.5,214.2 L643.9,215.0 L644.8,215.5 L645.3,216.2 L645.5,217.2 L646.1,217.9 L646.8,218.5 L646.9,219.6 L642.6,222.4 L642.3,221.5 L642.0,220.6 L641.7,219.7 L640.7,219.3 L640.4,218.4 L640.0,217.5 L639.2,217.0 L638.9,216.1 L638.2,215.5 L638.1,214.4 L637.1,214.1 L636.7,213.3 L636.2,212.7 L635.7,212.1 L635.4,211.3 L634.9,210.7 L634.5,210.0 L633.9,209.5 L633.4,208.9 L632.7,208.4 L632.4,207.6 L632.0,206.8 L631.8,205.8 L630.8,205.5 L630.5,204.7 L629.9,204.3 L629.5,203.7 L629.5,203.1 L629.1,202.9 L628.8,203.1 L628.8,202.4 L628.3,202.7 L628.0,202.5 L627.5,202.2 L626.9,202.6 L626.3,202.2 L625.7,201.9 L625.0,201.7 L624.0,201.0 L623.0,200.3 L622.6,199.2 L622.0,198.3 L621.3,197.4 L620.8,196.5 L620.2,195.8 L620.2,194.8 L619.7,194.4 L619.3,193.7 L619.0,193.1 L618.3,192.7 L617.8,192.2 L617.4,191.7 L616.7,191.6 L616.3,191.2 L616.2,190.6 L615.5,190.9 L615.2,190.5 L614.8,190.4 L614.7,189.6 L614.1,189.7 L613.6,189.7 L613.2,189.4 L612.8,189.0 L612.2,189.1 L611.8,188.4 L611.2,188.5 L610.5,188.6 L610.2,187.8 L609.3,188.2 L608.6,187.9 L608.4,186.9 L607.4,186.6 L606.7,186.0 L606.2,185.3 L605.8,184.6 L605.2,184.2 L604.8,183.9 L604.7,183.5 L604.3,183.7 L604.1,183.2 L603.6,183.3 L603.2,183.1 L602.8,182.6 L602.3,182.8 L601.9,182.4 L601.5,182.2 L600.9,182.4 L600.4,182.4 L599.9,182.2 L599.5,181.6 L598.9,181.4 L598.2,181.8 L597.9,180.9 L597.1,181.2 L596.5,180.9 L595.9,180.4 L595.3,179.6 L594.7,179.1 L593.9,178.7 L593.5,178.0 L592.6,177.7 L592.3,177.0 L591.6,176.6 L591.3,176.1 L590.9,175.7 L590.6,175.4 L590.6,174.8 L590.3,175.3 L590.2,174.8 L589.6,175.3 L589.2,174.9 L588.8,174.7 L588.3,175.2 L587.8,174.6 L587.4,174.5 L586.8,174.6 L586.3,174.8 L585.8,174.4 L585.2,174.8 L584.7,174.8 L584.2,174.2 L583.5,174.2 L582.8,174.0 L582.1,173.8 L581.6,173.4 L580.9,173.4 L580.4,172.9 L579.9,172.7 L579.6,172.0 L578.9,172.3 L578.5,172.1 L578.3,171.3 L577.8,171.8 L577.6,171.3 L577.3,171.1 L577.0,171.8 L576.5,171.4 L576.0,171.2 L575.5,171.8 L575.0,171.3 L574.5,171.0 L574.0,171.1 L573.5,171.2 L573.0,171.7 L572.5,171.2 L572.0,171.4 L571.5,171.2 L571.0,171.5 L570.5,171.7 L570.0,171.0 L569.5,171.2 L569.0,171.7 L568.5,171.7 L567.9,171.3 L567.4,171.5 L566.8,171.7 L566.2,171.6 L565.7,171.1 L565.1,171.4 L564.6,171.3 L564.2,170.8 L563.6,170.9 L563.0,171.0 L562.6,170.2 L562.1,170.5 L561.6,170.0 L561.1,170.0 L560.6,170.0 L560.1,169.6 L559.5,170.2 L559.0,169.3 L558.4,169.4 L557.9,168.9 L557.4,168.9 L556.9,169.2 L556.5,169.2 L556.1,169.1 L555.7,169.0 L555.3,168.6 L554.8,168.3 L554.3,168.9 L553.8,168.3 L553.3,168.6 L552.9,168.4 L552.3,168.8 L551.9,168.3 L551.4,168.5 L550.9,168.5 L550.4,168.1 L549.9,168.0 L549.4,168.7 L548.9,168.1 L548.4,168.2 L547.9,168.2 L547.3,168.1 L546.8,168.4 L546.3,168.4 L545.8,168.0 L545.3,167.8 L544.8,167.6 L544.3,167.5 L543.7,167.4 L543.2,167.4 L542.5,167.0 L541.8,166.6 L540.9,166.7 L540.6,166.0 L540.1,165.7 L539.6,165.5 L539.3,165.2 L539.0,165.3 L538.5,165.3 L538.0,165.2 L537.6,165.1 L537.1,164.9 L536.6,165.0 L536.1,164.7 L535.6,164.6 L535.1,164.7 L534.7,164.3 L534.2,164.4 L533.7,164.8 L533.2,164.6 L532.8,164.1 L532.3,164.6 L531.9,164.0 L531.4,164.4 L530.9,163.9 L530.5,164.4 L530.0,163.8 L529.5,164.1 L529.0,163.9 L528.5,163.6 L528.0,163.8 L527.5,164.5 L527.0,163.9 L526.5,163.8 L526.0,163.6 L525.5,164.2 L525.0,163.9 L524.5,163.9 L524.0,164.1 L523.5,164.0 L523.0,163.7 L522.5,163.4 L522.0,163.9 L521.5,164.0 L521.0,164.1 L520.5,164.1 L520.0,163.8 L519.5,164.1 L519.0,164.2 L518.5,164.0 L518.0,164.5 L517.5,164.3 L517.0,163.5 L516.5,163.7 L516.0,163.8 L515.5,163.6 L514.9,164.2 L514.5,163.5 L513.9,163.8 L513.4,164.0 L512.9,163.6 L512.4,163.8 L511.9,163.9 L511.4,163.5 L510.9,163.4 L510.4,163.4 L509.9,163.5 L509.4,163.4 L508.9,163.2 L508.4,163.1 L507.9,163.4 L507.4,163.9 L506.9,163.4 L506.4,164.0 L505.9,164.0 L505.4,163.9 L505.0,163.4 L504.5,163.7 L504.0,163.5 L503.5,163.6 L503.0,163.3 L502.5,163.4 L502.0,163.1 L501.5,163.2 L501.0,163.1 L500.5,163.1 L500.0,163.1 L499.5,163.8 L499.0,163.5 L498.5,163.1 L498.0,163.6 L497.5,163.8 L497.0,163.9 L496.5,163.5 L496.0,163.8 L495.5,163.6 L495.0,163.6 L494.5,163.4 L494.0,163.5 L493.5,162.9 L493.0,163.3 L492.5,163.2 L492.0,163.4 L491.5,163.6 L491.0,163.7 L490.5,163.7 L490.0,163.5 L489.5,163.4 L489.0,163.6 L488.5,163.1 L488.0,163.4 L487.5,163.6 L487.0,163.4 L486.5,163.4 L486.0,163.3 L485.5,163.1 L485.0,163.1 L484.5,163.0 L484.0,162.6 L483.5,162.9 L483.0,163.0 L482.5,163.0 L482.0,163.0 L481.5,163.3 L481.0,163.4 L480.5,163.5 L480.0,163.0 L479.5,163.4 L479.0,163.6 L478.4,163.8 L477.9,163.7 L477.4,163.2 L476.9,163.0 L476.3,163.6 L475.8,163.3 L475.3,163.1 L474.8,162.8 L474.3,162.9 L473.7,163.3 L473.3,162.7 L472.7,163.0 L472.2,162.9 L471.6,163.1 L471.2,162.9 L470.7,162.8 L470.2,162.6 L469.7,162.6 L469.2,162.3 L468.7,162.2 L468.3,162.0 L467.8,161.8 L467.2,162.1 L466.7,161.8 L466.3,161.3 L465.8,161.2 L465.3,160.9 L464.8,161.0 L464.2,161.2 L463.7,161.0 L463.1,161.4 L462.6,161.5 L462.1,161.5 L461.6,161.2 L461.2,160.6 L460.7,160.8 L460.3,159.9 L459.8,160.1 L459.2,160.4 L458.7,160.4 L458.3,159.8 L457.7,160.1 L457.3,159.9 L456.7,160.0 L456.2,160.0 L455.7,160.2 L455.3,159.5 L454.8,159.3 L454.2,159.8 L453.8,159.3 L453.3,159.0 L452.8,158.9 L452.3,158.6 L451.9,158.3 L451.5,157.7 L451.0,157.5 L450.5,157.1 L449.9,157.5 L449.4,157.9 L448.8,158.0 L448.2,158.6 L447.8,158.1 L447.2,158.3 L446.7,158.4 L446.2,158.1 L445.8,157.7 L445.3,157.3 L444.7,157.8 L444.2,157.9 L443.7,157.6 L443.2,157.5 L442.6,158.2 L442.1,157.7 L441.6,157.6 L441.3,156.7 L440.8,156.3 L440.3,156.2 L439.8,156.1 L439.2,156.4 L438.8,156.2 L438.3,156.0 L437.8,155.9 L437.2,155.9 L436.7,155.8 L436.3,155.5 L435.9,154.9 L435.4,154.6 L434.7,155.1 L434.1,155.3 L433.6,155.1 L433.2,154.5 L432.8,154.3 L432.3,153.9 L431.8,153.7 L431.1,154.1 L430.6,154.0 L430.1,153.9 L429.6,153.6 L429.1,153.4 L428.6,153.4 L427.8,154.1 L427.3,153.9 L426.8,153.7 L426.3,153.5 L425.9,153.2 L425.5,152.8 L424.9,153.0 L424.3,153.0 L423.8,152.8 L423.2,152.9 L422.9,152.1 L422.4,151.9 L422.0,151.5 L421.5,151.3 L421.0,151.2 L420.6,150.6 L419.9,151.0 L419.4,151.1 L418.9,150.8 L418.4,150.5 L417.9,150.3 L417.5,150.0 L417.0,149.9 L416.6,149.3 L416.0,149.4 L415.7,148.7 L415.1,148.9 L414.6,148.9 L414.2,148.3 L413.7,148.1 L413.2,147.9 L412.6,148.2 L412.3,147.3 L411.8,147.3 L411.2,147.5 L410.7,147.1 L410.1,147.4 L409.6,147.4 L409.2,146.8 L408.6,146.9 L408.3,146.3 L407.8,146.1 L407.3,145.9 L406.8,145.9 L406.2,145.9 L405.7,145.9 L405.1,145.9 L404.6,145.9 L404.1,145.7 L403.8,144.9 L403.2,145.3 L402.8,144.6 L402.3,144.6 L401.6,145.0 L401.3,144.5 L400.7,144.4 L400.2,144.4 L399.6,144.6 L399.2,144.3 L398.7,144.1 L398.2,144.1 L397.8,143.6 L397.2,143.7 L396.7,143.6 L396.3,143.1 L395.6,143.6 L395.2,143.1 L394.8,142.8 L394.2,143.1 L393.7,142.9 L393.0,143.3 L392.6,143.0 L392.1,142.7 L391.6,142.6 L391.2,142.1 L390.7,141.8 L390.2,141.6 L389.8,141.1 L389.3,141.0 L388.8,140.7 L388.3,140.6 L387.8,140.5 L387.4,140.2 L386.7,140.5 L386.2,140.5 L385.7,140.5 L385.1,140.5 L384.6,140.4 L384.3,139.8 L383.7,139.9 L383.2,139.9 L382.7,139.8 L382.2,139.7 L381.7,139.7 L381.3,139.3 L380.8,139.4 L380.3,139.1 L379.8,139.1 L379.3,139.3 L378.8,139.0 L378.3,138.8 L377.8,138.9 L377.3,139.0 L376.8,138.8 L376.4,138.2 L375.9,138.3 L375.4,137.9 L374.9,138.0 L374.4,137.6 L373.9,138.0 L373.4,138.0 L372.8,138.5 L372.3,138.3 L371.8,138.2 L371.3,138.0 L370.8,138.2 L370.3,138.2 L369.8,138.2 L369.3,138.0 L368.8,137.6 L368.3,137.7 L367.8,137.5 L367.4,137.2 L366.9,137.1 L366.3,137.4 L365.8,137.5 L365.3,137.1 L364.8,137.1 L364.3,137.1 L363.8,136.8 L363.3,137.1 L362.8,136.7 L362.3,136.9 L361.8,136.5 L361.4,136.1 L360.8,136.0 L360.3,135.8 L359.8,136.0 L359.3,135.9 L358.8,135.7 L358.2,135.9 L357.8,135.3 L357.2,135.4 L356.8,135.0 L356.3,135.1 L355.7,135.3 L355.2,135.1 L354.7,134.8 L354.2,134.8 L353.7,134.6 L353.2,134.6 L352.8,134.2 L352.2,134.3 L351.7,134.1 L351.2,134.1 L350.8,133.9 L350.2,134.0 L349.8,133.8 L349.3,133.8 L348.8,133.6 L348.3,133.5 L347.8,133.4 L347.3,133.2 L346.9,133.1 L346.4,133.0 L345.9,133.1 L345.4,132.8 L344.8,133.0 L344.4,132.6 L343.8,132.9 L343.3,132.9 L342.9,132.6 L342.4,132.4 L341.9,132.1 L341.4,132.1 L340.9,132.2 L340.4,132.0 L339.9,132.0 L339.4,131.7 L338.9,131.7 L338.3,131.7 L337.8,131.7 L337.3,131.6 L336.9,131.2 L336.3,131.2 L335.9,130.9 L335.3,130.9 L334.8,130.9 L334.3,130.8 L333.8,130.5 L333.3,130.4 L332.7,130.5 L332.2,130.4 L331.7,130.2 L331.2,130.2 L330.7,129.9 L330.1,129.9 L329.6,129.6 L329.1,129.5 L328.6,129.2 L328.1,129.1 L327.7,128.8 L327.1,128.7 L326.7,128.5 L326.2,128.3 L325.7,128.2Z" fill="#0000ff" stroke="none"/>
<path d="M133.6,290.5 L156.9,298.9 L170.8,306.1 L180.6,313.0 L188.2,318.6 L194.4,323.5 L199.7,327.2 L204.3,330.8 L205.0,331.5 L205.5,332.0 L206.0,332.6 L206.5,333.2 L207.0,333.8 L207.5,334.5 L208.0,335.1 L208.5,335.8 L209.0,336.4 L209.5,337.0 L210.0,337.6 L210.5,338.2 L211.0,338.8 L211.5,339.4 L212.0,340.0 L212.5,340.6 L213.0,341.2 L213.5,341.8 L214.0,342.3 L214.5,342.9 L215.0,343.4 L215.5,343.9 L216.0,344.4 L216.5,344.9 L217.0,345.4 L217.5,345.9 L218.0,346.3 L218.5,346.8 L219.0,347.2 L219.5,347.6 L220.0,348.1 L220.5,348.5 L221.0,348.9 L221.5,349.3 L222.0,349.6 L222.5,350.0 L223.0,350.4 L223.5,350.7 L224.0,351.1 L224.5,351.4 L225.0,351.7 L225.5,352.1 L226.0,352.4 L226.5,352.7 L227.0,352.9 L227.5,353.2 L228.0,353.4 L228.5,353.6 L229.0,353.8 L229.5,354.1 L230.0,354.3 L230.5,354.5 L231.0,354.7 L231.5,354.9 L232.0,355.0 L232.5,355.2 L233.0,355.3 L233.5,355.4 L234.0,355.5 L234.5,355.6 L235.0,355.6 L235.5,355.6 L236.0,355.6 L236.5,355.5 L237.0,355.5 L237.5,355.4 L238.0,355.3 L238.5,355.3 L239.0,355.2 L239.5,355.1 L240.0,354.9 L240.5,354.8 L241.0,354.7 L241.5,354.6 L242.0,354.4 L242.5,354.2 L243.0,354.0 L243.5,353.7 L244.0,353.4 L244.5,353.0 L245.0,352.6 L245.5,352.2 L246.0,351.7 L246.5,351.3 L247.0,350.8 L247.5,350.2 L248.0,349.7 L248.5,349.2 L249.0,348.6 L249.5,348.0 L250.0,347.3 L250.5,346.5 L251.0,345.7 L251.5,344.8 L252.0,343.9 L252.5,343.0 L253.0,342.0 L253.5,341.0 L254.0,340.0 L254.5,338.9 L255.0,337.7 L255.5,336.5 L256.0,335.2 L256.5,333.9 L257.0,332.4 L257.5,330.9 L258.0,329.4 L258.5,327.7 L259.0,325.9 L259.5,323.9 L260.0,321.8 L260.5,319.5 L261.0,317.0 L261.5,314.1 L262.0,311.1 L262.5,307.9 L263.0,304.6 L263.5,301.3 L264.0,298.1 L264.5,294.7 L265.0,291.4 L265.5,287.9 L266.0,284.3 L266.5,280.7 L267.0,276.9 L267.5,273.0 L268.0,269.0 L268.5,264.7 L269.0,260.0 L269.5,255.1 L270.0,250.2 L270.5,245.2 L271.0,240.5 L271.5,236.0 L272.0,231.8 L272.5,227.8 L273.0,223.9 L273.5,220.1 L274.0,216.3 L274.5,212.4 L275.0,208.4 L275.5,204.3 L276.0,200.1 L276.5,196.0 L277.0,191.8 L277.5,187.6 L278.0,183.4 L278.5,179.3 L279.0,175.1 L279.5,170.7 L280.0,166.3 L280.5,161.8 L281.0,157.3 L281.5,153.0 L282.0,148.9 L282.5,145.0 L283.0,141.5 L283.5,138.3 L284.0,135.6 L284.5,133.1 L285.0,130.7 L285.5,128.6 L286.0,126.6 L286.5,124.7 L287.0,123.0 L287.5,121.3 L288.0,119.8 L288.5,118.3 L289.0,116.9 L289.5,115.6 L290.0,114.5 L290.5,113.4 L291.0,112.4 L291.5,111.5 L292.0,110.7 L292.5,109.9 L293.0,109.2 L293.5,108.6 L294.0,108.0 L294.5,107.5 L295.0,107.0 L295.5,106.5 L296.0,106.0 L296.5,105.6 L297.0,105.2 L297.5,104.9 L298.0,104.6 L298.5,104.3 L299.0,104.1 L299.5,104.0 L300.0,103.8 L300.5,103.6 L301.0,103.5 L301.5,103.4 L302.0,103.3 L302.5,103.2 L303.0,103.1 L303.5,103.0 L304.0,102.9 L304.5,102.9 L305.0,102.8 L305.5,102.8 L306.0,102.8 L306.5,102.7 L307.0,102.7 L307.5,102.7 L308.0,102.6 L308.5,102.6 L309.0,102.6 L309.5,102.6 L310.0,102.5 L310.5,102.5 L311.0,102.5 L311.5,102.5 L312.0,102.5 L312.5,102.5 L313.0,102.5 L313.5,102.5 L314.0,102.6 L314.5,102.6 L315.0,102.6 L315.5,102.7 L316.0,102.7 L316.5,102.8 L317.0,102.9 L317.5,102.9 L318.0,103.0 L318.5,103.1 L319.0,103.1 L319.5,103.2 L320.0,103.3 L320.5,103.4 L321.0,103.4 L321.5,103.5 L322.0,103.6 L322.5,103.6 L323.0,103.7 L323.5,103.8 L324.0,103.9 L324.5,104.0 L325.0,104.1 L325.5,104.2 L326.0,104.2 L326.5,104.3 L327.0,104.4 L327.5,104.5 L328.0,104.6 L328.5,104.7 L329.0,104.7 L329.5,104.8 L330.0,104.9 L330.5,104.9 L331.0,105.0 L331.5,105.0 L332.0,105.1" fill="none" stroke="#ff00ff" stroke-width="2.1" stroke-linejoin="round" stroke-linecap="butt"/>
<path d="M326.2,103.2 L326.7,103.3 L327.2,103.4 L327.7,103.5 L328.2,103.6 L328.7,103.6 L329.1,103.7 L329.6,103.8 L330.1,103.9 L330.6,104.0 L331.1,104.1 L331.6,104.1 L332.1,103.9 L332.6,104.1 L333.1,104.0 L333.6,103.9 L334.1,104.1 L334.6,104.1 L335.1,104.2 L335.6,104.2 L336.1,104.7 L336.6,104.7 L337.1,104.5 L337.6,104.8 L338.1,104.6 L338.6,105.0 L339.1,105.1 L339.6,104.8 L340.1,105.1 L340.6,105.1 L341.2,105.0 L341.6,105.4 L342.2,105.1 L342.7,105.4 L343.1,105.5 L343.6,105.6 L344.2,105.6 L344.7,105.7 L345.2,105.6 L345.7,106.0 L346.2,106.0 L346.7,106.0 L347.2,105.8 L347.8,105.9 L348.2,106.1 L348.7,106.1 L349.2,106.2 L349.7,106.6 L350.2,106.7 L350.8,106.4 L351.2,106.8 L351.8,106.6 L352.2,106.9 L352.7,107.1 L353.2,107.3 L353.7,107.3 L354.2,107.4 L354.8,107.5 L355.2,107.6 L355.7,107.7 L356.2,107.8 L356.7,108.1 L357.2,108.1 L357.8,107.8 L358.2,108.5 L358.7,108.3 L359.2,108.6 L359.7,108.6 L360.2,108.9 L360.7,108.9 L361.2,108.9 L361.7,108.8 L362.2,109.1 L362.7,109.2 L363.2,109.1 L363.8,108.6 L364.2,108.9 L364.7,109.1 L365.2,108.9 L365.7,108.9 L366.2,109.2 L366.7,109.6 L367.2,109.7 L367.6,109.9 L368.1,110.2 L368.7,109.7 L369.1,110.1 L369.6,110.3 L370.2,109.9 L370.7,110.0 L371.2,110.1 L371.6,110.5 L372.1,110.7 L372.6,110.6 L373.1,110.8 L373.6,110.7 L374.1,110.6 L374.7,110.5 L375.1,110.8 L375.7,110.7 L376.1,111.1 L376.6,111.0 L377.1,111.3 L377.6,111.2 L378.1,111.0 L378.7,110.8 L379.2,110.8 L379.7,110.6 L380.2,111.1 L380.7,111.2 L381.2,111.0 L381.7,111.1 L382.2,111.2 L382.7,111.2 L383.2,111.2 L383.7,111.2 L384.2,111.1 L384.7,111.6 L385.2,111.6 L385.7,111.4 L386.1,111.9 L386.7,111.9 L387.1,112.2 L387.6,112.2 L388.2,112.0 L388.6,112.2 L389.1,112.4 L389.6,112.5 L390.2,112.1 L390.7,112.3 L391.1,112.7 L391.6,112.6 L392.1,112.9 L392.6,112.6 L393.1,112.8 L393.7,112.5 L394.2,112.7 L394.7,112.7 L395.2,112.6 L395.6,113.2 L396.2,112.9 L396.7,112.8 L397.2,113.1 L397.7,112.5 L398.2,112.6 L398.7,112.6 L399.2,113.2 L399.7,113.4 L400.2,113.3 L400.6,113.8 L401.2,113.5 L401.7,113.6 L402.2,113.6 L402.7,113.6 L403.2,113.7 L403.7,113.7 L404.1,114.2 L404.7,114.0 L405.2,114.1 L405.6,115.0 L406.0,115.2 L406.5,115.3 L407.1,114.6 L407.5,115.3 L408.1,114.8 L408.6,114.9 L409.1,114.8 L409.7,114.6 L410.2,114.3 L410.6,115.0 L411.2,114.5 L411.7,114.8 L412.2,115.1 L412.7,115.0 L413.2,114.5 L413.8,114.5 L414.2,114.7 L414.7,114.7 L415.3,114.7 L415.8,114.5 L416.3,114.9 L416.8,114.7 L417.3,115.0 L417.7,115.3 L418.2,115.6 L418.7,115.7 L419.2,116.0 L419.7,115.9 L420.1,116.3 L420.6,116.3 L421.2,116.0 L421.6,116.5 L422.2,116.2 L422.7,116.2 L423.1,116.7 L423.6,117.2 L424.2,116.7 L424.7,116.7 L425.1,116.9 L425.7,116.4 L426.2,116.6 L426.7,116.9 L427.2,116.9 L427.7,116.9 L428.2,116.9 L428.7,117.0 L429.1,117.8 L429.6,118.0 L430.1,117.7 L430.6,117.9 L431.1,118.0 L431.7,117.7 L432.2,117.5 L432.7,117.4 L433.2,117.5 L433.7,118.1 L434.2,118.0 L434.7,117.8 L435.2,117.7 L435.6,118.5 L436.2,118.2 L436.7,118.3 L437.2,118.3 L437.7,118.5 L438.2,118.7 L438.6,118.9 L439.1,119.1 L439.7,118.7 L440.2,118.7 L440.7,118.4 L441.2,118.5 L441.8,118.4 L442.2,119.0 L442.8,118.7 L443.2,119.0 L443.8,118.7 L444.3,118.5 L444.7,119.0 L445.2,119.2 L445.7,119.4 L446.1,120.1 L446.7,119.8 L447.1,120.2 L447.6,120.1 L448.2,119.9 L448.7,119.7 L449.2,119.8 L449.6,120.4 L450.1,120.5 L450.7,120.3 L451.2,120.4 L451.7,120.4 L452.2,120.1 L452.8,120.0 L453.3,120.1 L453.8,120.2 L454.3,120.3 L454.7,120.4 L455.3,120.4 L455.7,120.6 L456.2,120.8 L456.7,121.1 L457.1,121.8 L457.6,121.7 L458.2,121.5 L458.6,121.9 L459.2,121.6 L459.6,122.0 L460.2,121.7 L460.7,121.5 L461.2,121.6 L461.8,121.2 L462.3,121.2 L462.8,120.7 L463.3,121.2 L463.7,121.4 L464.3,121.3 L464.7,121.7 L465.1,122.2 L465.7,122.1 L466.2,121.7 L466.7,121.9 L467.2,121.8 L467.7,121.5 L468.2,121.7 L468.7,122.0 L469.2,121.8 L469.7,121.8 L470.1,122.4 L470.6,122.5 L471.1,122.7 L471.7,122.3 L472.1,122.9 L472.7,122.5 L473.2,122.4 L473.7,121.9 L474.2,121.9 L474.7,122.6 L475.2,122.2 L475.7,122.5 L476.1,123.0 L476.7,122.6 L477.1,123.1 L477.7,122.7 L478.1,123.2 L478.6,122.9 L479.2,122.7 L479.7,122.3 L480.2,122.4 L480.7,122.7 L481.1,123.3 L481.6,123.3 L482.1,123.5 L482.6,123.1 L483.1,123.3 L483.6,123.5 L484.1,123.4 L484.6,123.1 L485.1,123.6 L485.6,123.1 L486.1,123.3 L486.6,123.5 L487.1,123.3 L487.6,123.6 L488.1,123.9 L488.6,123.8 L489.0,124.1 L489.5,124.1 L490.0,123.9 L490.5,123.6 L491.0,124.2 L491.5,124.1 L492.0,123.8 L492.5,123.8 L493.0,123.6 L493.5,123.6 L494.0,123.5 L494.5,123.4 L495.0,123.4 L495.5,123.5 L496.0,123.6 L496.5,123.6 L497.0,123.7 L497.5,123.5 L498.0,123.3 L498.5,123.5 L499.0,123.9 L499.6,123.4 L500.0,124.0 L500.6,123.4 L501.1,123.7 L501.6,124.0 L502.1,124.2 L502.6,123.8 L503.1,124.4 L503.6,124.4 L504.1,124.0 L504.6,124.3 L505.1,124.4 L505.6,124.3 L506.1,124.8 L506.6,124.0 L507.1,124.2 L507.6,124.7 L508.1,124.1 L508.6,124.2 L509.1,124.0 L509.6,123.9 L510.1,123.6 L510.6,124.2 L511.1,123.6 L511.6,124.1 L512.1,124.5 L512.6,124.6 L513.1,124.7 L513.6,124.4 L514.1,124.6 L514.5,124.8 L515.1,124.2 L515.6,124.3 L516.1,123.9 L516.5,124.5 L517.0,123.9 L517.5,123.9 L518.0,124.7 L518.5,124.4 L519.0,124.7 L519.5,124.5 L520.0,124.8 L520.5,124.1 L521.0,124.7 L521.5,124.3 L522.0,124.3 L522.5,124.6 L523.0,124.8 L523.5,124.2 L524.0,124.9 L524.5,124.6 L525.0,124.5 L525.5,124.3 L526.0,124.5 L526.5,124.7 L527.0,124.4 L527.5,124.3 L528.0,124.4 L528.5,124.6 L529.0,124.8 L529.5,125.0 L530.0,124.6 L530.5,124.5 L531.0,124.6 L531.5,124.2 L532.0,124.7 L532.5,124.2 L533.0,124.2 L533.5,124.1 L534.0,124.1 L534.5,124.6 L535.0,124.0 L535.5,124.3 L536.0,124.0 L536.5,123.8 L537.0,124.2 L537.5,124.4 L538.0,124.9 L538.5,124.5 L539.0,124.7 L539.5,124.6 L540.0,124.6 L540.5,124.1 L541.0,124.4 L541.5,124.3 L542.0,124.8 L542.5,124.8 L543.0,124.3 L543.5,124.9 L544.0,124.3 L544.5,124.7 L545.0,124.7 L545.5,124.6 L546.0,124.7 L546.5,124.6 L547.0,124.7 L547.5,124.5 L548.0,124.9 L548.5,125.0 L549.0,124.8 L549.5,125.1 L550.0,124.8 L550.5,124.8 L551.0,124.6 L551.5,125.0 L552.0,124.7 L552.5,124.4 L553.0,124.7 L553.5,124.2 L554.0,124.4 L554.5,124.9 L555.0,124.6 L555.5,124.3 L556.0,124.5 L556.5,124.4 L557.0,124.2 L557.5,124.6 L558.0,124.7 L558.5,124.5 L559.0,124.8 L559.5,125.0 L560.0,124.7 L560.5,124.4 L561.0,124.2 L561.5,124.5 L562.0,124.8 L562.5,124.3 L563.0,124.8 L563.5,125.0 L564.0,124.7 L564.5,124.8 L565.0,125.0 L565.5,124.5 L566.0,124.5 L566.5,124.3 L567.0,125.0 L567.5,124.4 L568.0,124.5 L568.5,124.9 L569.0,124.7 L569.5,124.6 L570.0,124.8 L570.5,125.0 L571.0,124.4 L571.5,125.0 L572.0,124.7 L572.5,124.8 L573.0,124.4 L573.5,124.6 L574.0,124.8 L574.5,124.3 L575.0,124.8 L575.5,124.5 L576.0,124.9 L576.5,124.5 L577.0,124.5 L577.5,124.4 L578.0,124.6 L578.5,124.8 L579.0,124.5 L579.5,124.3 L580.0,124.8 L580.5,125.0 L581.0,124.9 L581.5,124.4 L582.0,125.1 L582.5,125.1 L583.0,125.0 L583.5,124.4 L584.0,124.8 L584.5,124.6 L585.0,124.6 L585.5,124.8 L586.0,124.5 L586.5,124.7 L587.0,124.7 L587.5,124.9 L588.0,125.2 L588.5,124.8 L589.0,125.0 L589.5,125.0 L590.0,124.5 L590.5,124.8 L591.0,125.0 L591.5,124.6 L592.0,124.7 L592.5,125.1 L593.0,124.9 L593.5,124.7 L594.0,124.9 L594.5,124.4 L595.0,124.5 L595.5,124.7 L596.0,124.4 L596.5,125.2 L597.0,125.1 L597.5,124.6 L598.0,125.0 L598.5,125.3 L599.0,125.0 L599.5,124.8 L600.0,124.9 L600.5,125.4 L601.0,125.3 L601.5,125.0 L602.0,125.3 L602.5,125.2 L603.0,124.7 L603.5,124.8 L604.0,125.0 L604.5,124.4 L605.0,124.8 L605.5,124.4 L606.0,124.7 L606.5,124.8 L607.0,125.0 L607.5,124.8 L608.0,125.2 L608.5,125.3 L609.0,124.8 L609.5,125.3 L610.0,125.1 L610.5,124.8 L611.0,125.1 L611.5,125.1 L612.0,124.6 L612.5,125.1 L613.0,125.1 L613.5,124.5 L614.0,125.0 L614.5,125.0 L615.0,124.6 L615.5,125.1 L616.0,124.5 L616.5,124.7 L617.0,124.6 L617.5,125.1 L618.0,125.2 L618.5,124.8 L619.0,124.7 L619.5,125.3 L620.0,125.3 L620.5,125.3 L621.0,125.4 L621.5,125.2 L622.0,125.1 L622.5,125.0 L623.0,125.5 L623.5,125.4 L624.0,125.5 L624.5,125.4 L625.0,125.5 L625.5,124.9 L626.0,125.3 L626.5,125.5 L627.0,125.1 L627.5,124.8 L628.0,124.9 L628.5,125.0 L629.0,125.2 L629.5,125.2 L630.0,125.3 L630.5,124.9 L631.0,124.9 L631.5,125.2 L632.1,124.9 L632.5,125.1 L633.0,125.1 L633.5,125.4 L634.0,125.4 L634.5,125.4 L635.1,124.8 L635.6,124.9 L636.1,124.8 L636.6,124.9 L637.1,124.9 L637.5,125.3 L638.1,125.1 L638.5,125.6 L639.0,125.2 L639.5,125.8 L640.1,125.1 L640.6,125.1 L641.0,125.7 L641.6,125.2 L642.1,125.1 L642.5,125.7 L643.1,125.3 L643.5,125.4 L644.1,125.3 L644.6,125.1 L645.1,125.2 L645.0,130.3 L644.5,130.2 L644.0,130.0 L643.5,130.2 L642.9,130.5 L642.5,130.3 L641.9,130.5 L641.5,130.1 L640.9,130.5 L640.5,130.0 L639.9,130.5 L639.5,130.0 L638.9,130.7 L638.5,130.3 L638.0,129.9 L637.5,129.9 L636.9,130.5 L636.5,130.1 L636.0,130.0 L635.5,129.8 L635.0,130.2 L634.5,129.8 L634.0,130.0 L633.5,130.3 L633.0,130.3 L632.5,129.9 L631.9,130.4 L631.5,130.2 L631.0,130.0 L630.5,130.1 L630.0,130.3 L629.5,130.2 L629.0,129.9 L628.5,129.8 L628.0,129.8 L627.5,130.3 L627.0,129.9 L626.5,130.1 L626.0,130.0 L625.5,129.9 L625.0,130.1 L624.5,130.0 L624.0,130.1 L623.5,129.9 L623.0,130.1 L622.5,129.7 L622.0,129.7 L621.5,129.9 L621.0,129.6 L620.5,129.7 L620.0,129.7 L619.5,129.5 L619.0,129.8 L618.5,130.0 L618.0,129.4 L617.5,129.6 L617.0,129.4 L616.5,129.6 L616.0,129.6 L615.5,129.5 L615.0,129.4 L614.5,129.5 L614.0,129.6 L613.5,129.8 L613.0,129.9 L612.5,129.6 L612.0,129.8 L611.5,129.6 L611.0,129.8 L610.5,129.5 L610.0,129.4 L609.5,129.7 L609.0,129.8 L608.5,129.5 L608.0,129.3 L607.5,129.3 L607.0,130.0 L606.5,129.7 L606.0,129.8 L605.5,129.6 L605.0,129.5 L604.5,129.1 L604.0,129.7 L603.5,129.1 L603.0,129.6 L602.5,129.8 L602.0,129.4 L601.5,129.8 L601.0,129.9 L600.5,129.9 L600.0,129.8 L599.5,129.6 L599.0,129.5 L598.5,129.5 L598.0,129.7 L597.5,129.3 L597.0,129.2 L596.5,129.8 L596.0,129.5 L595.5,129.3 L595.0,129.4 L594.5,129.3 L594.0,129.1 L593.5,129.1 L593.0,129.4 L592.5,128.9 L592.0,129.7 L591.5,129.0 L591.0,129.6 L590.5,129.5 L590.0,129.2 L589.5,129.4 L589.0,129.6 L588.5,129.1 L588.0,129.0 L587.5,129.2 L587.0,129.1 L586.5,129.4 L586.0,129.0 L585.5,129.3 L585.0,129.1 L584.5,129.2 L584.0,129.5 L583.5,128.8 L583.0,129.4 L582.5,129.1 L582.0,129.0 L581.5,129.0 L581.0,128.8 L580.5,129.2 L580.0,129.3 L579.5,128.9 L579.0,129.3 L578.5,128.7 L578.0,128.7 L577.5,128.6 L577.0,129.4 L576.5,129.0 L576.0,129.4 L575.5,128.7 L575.0,129.2 L574.5,129.0 L574.0,128.9 L573.5,128.9 L573.0,129.0 L572.5,128.9 L572.0,128.8 L571.5,128.9 L571.0,128.7 L570.5,129.0 L570.0,128.7 L569.5,128.7 L569.0,129.1 L568.5,129.1 L568.0,128.9 L567.5,129.4 L567.0,128.9 L566.5,129.4 L566.0,128.6 L565.5,128.6 L565.0,129.0 L564.5,129.0 L564.0,129.3 L563.5,128.9 L563.0,128.8 L562.5,128.8 L562.0,128.7 L561.5,128.5 L561.0,128.5 L560.5,129.1 L560.0,128.8 L559.5,128.5 L559.0,129.1 L558.5,129.0 L558.0,128.7 L557.5,129.2 L557.0,129.2 L556.5,128.8 L556.0,128.9 L555.5,128.6 L555.0,128.6 L554.5,128.9 L554.0,128.4 L553.5,129.0 L553.0,128.6 L552.5,128.8 L552.0,129.1 L551.5,129.0 L551.0,128.8 L550.5,128.9 L550.0,129.0 L549.5,128.7 L549.0,128.8 L548.5,128.8 L548.0,128.6 L547.5,128.7 L547.0,128.8 L546.5,128.7 L546.0,128.6 L545.5,128.8 L545.0,128.7 L544.5,128.6 L544.0,128.5 L543.5,129.1 L543.0,128.3 L542.5,128.7 L542.0,128.9 L541.5,128.7 L541.0,128.4 L540.5,128.5 L540.0,128.3 L539.5,128.2 L539.0,128.4 L538.5,128.3 L538.0,128.5 L537.5,128.3 L537.0,128.5 L536.5,127.9 L536.0,128.1 L535.5,128.6 L535.0,128.1 L534.5,128.4 L534.0,128.0 L533.5,128.6 L533.0,128.5 L532.5,128.1 L532.0,128.1 L531.5,128.8 L531.0,128.8 L530.5,128.7 L530.0,128.3 L529.5,128.5 L529.0,128.7 L528.5,128.8 L528.0,128.7 L527.5,128.5 L527.0,128.7 L526.5,128.4 L526.0,128.2 L525.5,128.3 L525.0,128.5 L524.5,128.5 L524.0,128.1 L523.5,128.2 L523.0,128.4 L522.5,128.7 L522.0,128.1 L521.5,128.2 L521.0,128.5 L520.5,128.5 L520.0,128.4 L519.5,128.3 L519.0,128.0 L518.5,128.6 L518.0,128.0 L517.5,128.1 L517.0,128.1 L516.5,128.3 L516.0,128.0 L515.5,127.8 L515.0,127.9 L514.4,128.6 L513.9,128.7 L513.4,128.7 L512.9,128.2 L512.4,128.1 L511.9,128.3 L511.4,127.7 L510.9,127.8 L510.4,127.7 L509.9,127.6 L509.4,127.6 L508.9,127.5 L508.4,128.1 L507.9,128.1 L507.4,127.7 L506.9,127.8 L506.4,128.0 L505.9,128.0 L505.4,127.7 L504.9,127.7 L504.4,127.9 L503.9,128.1 L503.4,128.0 L502.9,127.3 L502.4,127.5 L501.9,127.4 L501.4,127.8 L500.9,127.7 L500.4,127.5 L499.9,127.7 L499.5,127.4 L499.0,127.6 L498.5,127.1 L498.0,127.2 L497.5,127.3 L497.0,127.4 L496.5,127.1 L496.0,126.7 L495.5,126.9 L495.0,126.9 L494.5,127.3 L494.0,126.9 L493.5,127.1 L493.0,127.9 L492.5,127.9 L492.0,127.5 L491.4,127.9 L491.0,127.5 L490.5,127.3 L489.9,127.2 L489.4,127.6 L488.9,127.1 L488.4,127.2 L487.9,127.0 L487.4,126.7 L486.9,127.2 L486.4,126.8 L485.9,126.9 L485.4,126.7 L484.9,126.6 L484.4,127.0 L483.9,126.6 L483.4,126.7 L482.9,127.0 L482.4,126.9 L481.9,126.8 L481.4,126.3 L480.9,126.3 L480.4,125.9 L479.9,126.4 L479.4,125.7 L478.9,126.0 L478.4,126.3 L477.9,126.4 L477.4,126.0 L476.9,126.3 L476.4,126.0 L475.9,126.2 L475.4,125.8 L474.9,126.1 L474.4,126.0 L473.9,125.3 L473.4,125.7 L472.9,125.2 L472.3,126.1 L471.9,125.7 L471.4,125.8 L470.9,125.6 L470.3,126.0 L469.9,125.1 L469.4,125.6 L468.9,124.9 L468.4,124.9 L467.9,124.8 L467.4,125.1 L466.9,124.6 L466.3,125.4 L465.9,124.9 L465.3,125.4 L464.8,125.3 L464.3,124.9 L463.8,125.1 L463.3,124.9 L462.8,124.7 L462.4,124.2 L461.9,124.0 L461.3,124.6 L460.9,124.1 L460.3,124.5 L459.7,124.8 L459.2,124.7 L458.8,124.6 L458.1,125.4 L457.7,124.7 L457.2,124.7 L456.7,124.7 L456.2,124.2 L455.7,124.3 L455.2,124.1 L454.8,123.6 L454.2,123.9 L453.8,123.6 L453.3,123.1 L452.8,123.2 L452.3,123.2 L451.7,123.7 L451.2,123.6 L450.8,123.2 L450.3,123.2 L449.7,123.6 L449.3,123.1 L448.7,123.4 L448.2,123.2 L447.7,123.3 L447.3,122.9 L446.7,123.0 L446.2,123.0 L445.7,123.2 L445.3,122.3 L444.9,121.9 L444.3,122.2 L443.8,122.2 L443.3,121.9 L442.8,121.9 L442.3,121.8 L441.8,121.8 L441.3,121.9 L440.8,121.4 L440.2,122.0 L439.7,121.9 L439.3,121.7 L438.7,121.9 L438.3,121.6 L437.8,121.2 L437.3,121.5 L436.8,121.1 L436.2,121.6 L435.7,121.6 L435.3,120.8 L434.8,120.8 L434.3,121.0 L433.8,121.0 L433.2,121.0 L432.8,120.5 L432.3,120.6 L431.7,121.0 L431.2,120.9 L430.7,121.0 L430.2,121.0 L429.7,120.8 L429.2,120.7 L428.7,120.4 L428.3,120.1 L427.8,120.2 L427.4,119.4 L426.9,119.3 L426.3,119.6 L425.8,119.8 L425.3,119.9 L424.7,120.0 L424.3,119.4 L423.7,120.0 L423.2,119.9 L422.7,119.6 L422.2,119.6 L421.8,119.0 L421.3,118.9 L420.8,118.9 L420.3,119.3 L419.8,118.6 L419.3,118.7 L418.7,119.1 L418.3,118.8 L417.8,118.5 L417.4,117.7 L416.8,118.3 L416.3,118.2 L415.8,118.1 L415.4,117.3 L414.9,117.6 L414.4,117.4 L413.9,117.1 L413.3,117.6 L412.9,117.2 L412.3,117.8 L411.8,117.7 L411.3,117.7 L410.9,117.1 L410.4,117.0 L409.9,117.2 L409.3,117.2 L408.8,117.2 L408.2,117.8 L407.7,117.9 L407.2,117.7 L406.8,117.3 L406.3,117.3 L405.7,117.7 L405.2,117.8 L404.8,117.4 L404.3,116.8 L403.8,116.6 L403.3,116.7 L402.8,116.6 L402.3,116.4 L401.8,116.4 L401.3,116.5 L400.8,116.7 L400.3,116.3 L399.8,116.5 L399.4,116.0 L398.9,115.8 L398.4,115.7 L397.9,115.5 L397.4,115.3 L396.9,115.6 L396.3,115.8 L395.8,115.7 L395.4,115.3 L394.9,115.3 L394.3,115.6 L393.9,115.3 L393.3,115.7 L392.8,115.8 L392.3,115.7 L391.8,115.7 L391.3,115.4 L390.8,115.4 L390.4,114.8 L389.8,115.1 L389.4,114.7 L388.8,115.0 L388.4,114.6 L387.8,115.1 L387.3,114.8 L386.8,114.6 L386.3,114.7 L385.8,114.5 L385.3,114.4 L384.9,113.9 L384.4,113.9 L383.9,113.7 L383.4,113.5 L382.9,113.6 L382.3,114.0 L381.8,113.9 L381.4,113.5 L380.9,113.5 L380.4,113.6 L379.9,113.4 L379.4,113.5 L378.9,113.3 L378.4,112.9 L377.9,113.4 L377.3,113.5 L376.8,113.4 L376.3,113.6 L375.9,113.0 L375.3,113.4 L374.9,112.9 L374.3,113.1 L373.8,113.1 L373.3,113.2 L372.8,113.4 L372.3,113.0 L371.9,112.6 L371.3,112.7 L370.9,112.5 L370.4,112.5 L369.8,112.6 L369.3,112.7 L368.9,112.2 L368.3,112.3 L367.9,112.0 L367.3,112.3 L366.9,111.9 L366.3,112.0 L365.9,111.5 L365.4,111.3 L364.9,111.5 L364.4,111.2 L363.9,111.1 L363.4,110.9 L362.8,111.2 L362.3,111.4 L361.8,111.2 L361.3,111.3 L360.8,111.4 L360.3,111.0 L359.8,111.0 L359.3,110.8 L358.8,110.8 L358.2,110.8 L357.7,110.6 L357.3,110.0 L356.8,110.3 L356.3,110.1 L355.8,109.9 L355.3,110.0 L354.8,109.7 L354.3,109.5 L353.7,109.7 L353.3,109.6 L352.8,109.2 L352.3,109.1 L351.8,109.0 L351.3,108.9 L350.8,108.9 L350.3,108.6 L349.9,108.5 L349.3,108.8 L348.8,108.3 L348.3,108.5 L347.8,108.4 L347.3,108.1 L346.8,108.1 L346.3,108.1 L345.8,107.9 L345.3,108.1 L344.7,108.1 L344.3,107.7 L343.8,107.9 L343.3,107.5 L342.8,107.5 L342.3,107.3 L341.8,107.3 L341.3,107.3 L340.8,107.3 L340.3,107.3 L339.9,106.9 L339.4,106.8 L338.8,107.0 L338.3,107.1 L337.8,107.0 L337.3,107.0 L336.9,106.7 L336.4,106.8 L335.9,106.7 L335.4,106.5 L334.9,106.3 L334.4,106.2 L333.9,106.4 L333.4,106.0 L332.9,106.2 L332.4,106.2 L331.9,106.2 L331.4,106.1 L330.9,106.0 L330.4,106.1 L329.9,106.0 L329.4,105.8 L328.9,105.7 L328.3,105.7 L327.8,105.6 L327.3,105.5 L326.8,105.5 L326.3,105.4 L325.8,105.3Z" fill="#ff00ff" stroke="none"/>
<path d="M133.6,290.5 L156.9,298.9 L170.8,306.1 L180.6,313.0 L188.2,318.6 L194.4,323.5 L199.7,327.2 L204.3,330.8 L205.0,331.5 L205.5,332.0 L206.0,332.6 L206.5,333.2 L207.0,333.8 L207.5,334.5 L208.0,335.1 L208.5,335.8 L209.0,336.4 L209.5,337.0 L210.0,337.6 L210.5,338.2 L211.0,338.8 L211.5,339.4 L212.0,340.0 L212.5,340.6 L213.0,341.2 L213.5,341.8 L214.0,342.3 L214.5,342.9 L215.0,343.4 L215.5,343.9 L216.0,344.4 L216.5,344.9 L217.0,345.4 L217.5,345.9 L218.0,346.3 L218.5,346.8 L219.0,347.2 L219.5,347.7 L220.0,348.1 L220.5,348.5 L221.0,348.9 L221.5,349.3 L222.0,349.6 L222.5,350.0 L223.0,350.3 L223.5,350.7 L224.0,351.0 L224.5,351.3 L225.0,351.6 L225.5,351.9 L226.0,352.2 L226.5,352.5 L227.0,352.8 L227.5,353.0 L228.0,353.2 L228.5,353.4 L229.0,353.6 L229.5,353.8 L230.0,354.1 L230.5,354.3 L231.0,354.5 L231.5,354.6 L232.0,354.8 L232.5,355.0 L233.0,355.1 L233.5,355.2 L234.0,355.3 L234.5,355.4 L235.0,355.4 L235.5,355.4 L236.0,355.4 L236.5,355.3 L237.0,355.3 L237.5,355.2 L238.0,355.1 L238.5,355.0 L239.0,354.9 L239.5,354.7 L240.0,354.6 L240.5,354.5 L241.0,354.3 L241.5,354.2 L242.0,354.0 L242.5,353.8 L243.0,353.5 L243.5,353.2 L244.0,352.9 L244.5,352.5 L245.0,352.1 L245.5,351.7 L246.0,351.2 L246.5,350.7 L247.0,350.2 L247.5,349.7 L248.0,349.1 L248.5,348.6 L249.0,348.0 L249.5,347.3 L250.0,346.6 L250.5,345.8 L251.0,344.9 L251.5,344.0 L252.0,343.1 L252.5,342.1 L253.0,341.1 L253.5,340.0 L254.0,339.0 L254.5,337.9 L255.0,336.7 L255.5,335.4 L256.0,334.1 L256.5,332.7 L257.0,331.2 L257.5,329.7 L258.0,328.0 L258.5,326.3 L259.0,324.4 L259.5,322.3 L260.0,320.0 L260.5,317.5 L261.0,314.5 L261.5,311.0 L262.0,307.4 L262.5,303.7 L263.0,300.1 L263.5,296.7 L264.0,293.4 L264.5,290.2 L265.0,286.9 L265.5,283.6 L266.0,280.1 L266.5,276.5 L267.0,272.7 L267.5,268.7 L268.0,264.3 L268.5,259.4 L269.0,254.1 L269.5,248.8 L270.0,243.4 L270.5,238.2 L271.0,233.3 L271.5,228.6 L272.0,224.0 L272.5,219.5 L273.0,215.0 L273.5,210.6 L274.0,206.3 L274.5,202.2 L275.0,198.2 L275.5,194.2 L276.0,190.3 L276.5,186.2 L277.0,182.0 L277.5,177.4 L278.0,172.4 L278.5,166.9 L279.0,161.2 L279.5,155.6 L280.0,150.0 L280.5,144.9 L281.0,140.3 L281.5,136.5 L282.0,133.1 L282.5,130.0 L283.0,127.1 L283.5,124.5 L284.0,122.0 L284.5,119.6 L285.0,117.4 L285.5,115.2 L286.0,113.1 L286.5,111.2 L287.0,109.3 L287.5,107.6 L288.0,106.1 L288.5,104.7 L289.0,103.3 L289.5,102.1 L290.0,100.9 L290.5,99.8 L291.0,98.9 L291.5,98.0 L292.0,97.3 L292.5,96.5 L293.0,95.9 L293.5,95.2 L294.0,94.7 L294.5,94.2 L295.0,93.8 L295.5,93.5 L296.0,93.3 L296.5,93.0 L297.0,92.8 L297.5,92.6 L298.0,92.4 L298.5,92.2 L299.0,92.1 L299.5,92.0 L300.0,92.0 L300.5,91.9 L301.0,91.9 L301.5,91.9 L302.0,91.8 L302.5,91.8 L303.0,91.8 L303.5,91.8 L304.0,91.7 L304.5,91.7 L305.0,91.7 L305.5,91.7 L306.0,91.7 L306.5,91.7 L307.0,91.7 L307.5,91.7 L308.0,91.7 L308.5,91.7 L309.0,91.8 L309.5,91.8 L310.0,91.8 L310.5,91.9 L311.0,91.9 L311.5,92.0 L312.0,92.0 L312.5,92.1 L313.0,92.1 L313.5,92.2 L314.0,92.2 L314.5,92.3 L315.0,92.3 L315.5,92.4 L316.0,92.4 L316.5,92.5 L317.0,92.5 L317.5,92.6 L318.0,92.7 L318.5,92.8 L319.0,92.8 L319.5,92.9 L320.0,93.0 L320.5,93.1 L321.0,93.2 L321.5,93.3 L322.0,93.4 L322.5,93.5 L323.0,93.6 L323.5,93.6 L324.0,93.7 L324.5,93.8 L325.0,93.9 L325.5,94.0 L326.0,94.1 L326.5,94.2 L327.0,94.3 L327.5,94.3 L328.0,94.4 L328.5,94.5 L329.0,94.6 L329.5,94.7 L330.0,94.7 L330.5,94.8 L331.0,94.9 L331.5,95.0 L332.0,95.0" fill="none" stroke="#808000" stroke-width="2.1" stroke-linejoin="round" stroke-linecap="butt"/>
<path d="M326.2,93.1 L326.7,93.1 L327.2,93.2 L327.7,93.3 L328.2,93.3 L328.7,93.4 L329.2,93.4 L329.7,93.6 L330.2,93.6 L330.7,93.8 L331.2,93.8 L331.6,94.1 L332.2,94.0 L332.7,94.1 L333.1,94.3 L333.6,94.3 L334.1,94.4 L334.7,94.3 L335.1,94.5 L335.6,94.5 L336.2,94.4 L336.6,94.7 L337.2,94.6 L337.6,94.9 L338.1,95.1 L338.6,95.2 L339.2,95.0 L339.6,95.2 L340.2,95.0 L340.7,95.2 L341.2,95.3 L341.6,95.5 L342.1,95.5 L342.7,95.5 L343.1,95.6 L343.7,95.6 L344.2,95.5 L344.7,95.5 L345.2,95.8 L345.7,95.9 L346.2,95.7 L346.7,96.0 L347.2,95.9 L347.7,96.1 L348.1,96.5 L348.7,96.3 L349.2,96.5 L349.7,96.5 L350.2,96.6 L350.7,96.8 L351.2,96.8 L351.6,97.1 L352.2,97.1 L352.7,97.0 L353.2,97.2 L353.7,97.1 L354.2,97.4 L354.7,97.6 L355.2,97.7 L355.6,97.9 L356.2,97.8 L356.7,97.8 L357.2,97.7 L357.7,98.2 L358.2,98.2 L358.7,97.9 L359.2,98.1 L359.8,97.7 L360.2,97.9 L360.8,97.8 L361.2,98.2 L361.7,98.2 L362.2,98.3 L362.7,98.6 L363.1,99.0 L363.6,99.1 L364.1,99.2 L364.6,99.4 L365.1,99.3 L365.7,99.0 L366.2,99.0 L366.6,99.2 L367.2,99.0 L367.7,98.9 L368.1,99.3 L368.7,99.2 L369.1,99.4 L369.6,99.5 L370.1,100.2 L370.6,99.8 L371.1,99.8 L371.6,100.2 L372.1,99.9 L372.6,100.2 L373.1,99.9 L373.6,99.9 L374.1,99.9 L374.6,99.9 L375.1,100.3 L375.6,100.6 L376.1,100.3 L376.6,100.9 L377.1,100.8 L377.6,100.7 L378.1,100.3 L378.6,100.5 L379.1,100.2 L379.6,100.5 L380.1,100.5 L380.6,100.6 L381.1,100.6 L381.6,101.0 L382.1,101.0 L382.6,100.8 L383.1,100.9 L383.6,100.7 L384.2,100.7 L384.6,101.1 L385.1,101.4 L385.6,101.1 L386.1,101.1 L386.6,101.3 L387.1,101.3 L387.6,101.4 L388.1,101.3 L388.6,101.4 L389.1,101.6 L389.6,101.8 L390.1,101.7 L390.6,101.6 L391.1,101.7 L391.6,101.5 L392.2,101.4 L392.7,101.1 L393.2,101.2 L393.6,101.7 L394.1,102.1 L394.6,102.2 L395.1,102.1 L395.6,102.4 L396.1,102.4 L396.6,102.3 L397.1,102.2 L397.6,102.0 L398.1,102.5 L398.6,102.4 L399.1,102.6 L399.6,102.2 L400.2,102.1 L400.6,102.3 L401.1,102.5 L401.6,102.4 L402.1,102.8 L402.6,103.0 L403.1,102.9 L403.7,102.4 L404.1,102.9 L404.6,102.7 L405.1,103.1 L405.6,103.2 L406.1,103.5 L406.6,103.5 L407.1,103.0 L407.6,103.3 L408.1,103.5 L408.6,103.0 L409.1,103.2 L409.6,103.7 L410.1,103.6 L410.6,103.6 L411.1,104.0 L411.6,103.8 L412.1,103.8 L412.6,103.2 L413.1,103.6 L413.7,102.9 L414.1,103.4 L414.7,103.2 L415.1,103.4 L415.7,102.8 L416.2,103.1 L416.6,103.9 L417.1,103.8 L417.6,104.1 L418.1,104.1 L418.6,104.4 L419.1,104.0 L419.6,104.7 L420.1,104.2 L420.6,104.6 L421.1,104.1 L421.6,104.2 L422.2,104.1 L422.6,104.2 L423.1,104.3 L423.6,105.0 L424.1,105.1 L424.6,104.5 L425.1,105.1 L425.6,105.0 L426.1,105.1 L426.6,104.8 L427.2,104.5 L427.6,105.0 L428.1,105.0 L428.6,104.9 L429.1,105.2 L429.6,105.1 L430.1,105.3 L430.6,105.4 L431.1,105.1 L431.6,106.0 L432.1,105.6 L432.6,105.8 L433.1,105.8 L433.7,105.1 L434.1,105.7 L434.6,105.9 L435.2,105.5 L435.6,106.0 L436.1,106.0 L436.7,105.3 L437.1,105.7 L437.7,105.1 L438.2,105.5 L438.7,105.3 L439.2,105.7 L439.7,105.9 L440.2,105.5 L440.7,105.6 L441.2,106.1 L441.7,105.6 L442.2,106.0 L442.7,105.9 L443.2,106.1 L443.7,105.7 L444.3,105.7 L444.8,105.7 L445.3,105.6 L445.7,106.1 L446.2,106.6 L446.6,107.1 L447.1,107.1 L447.7,106.9 L448.1,107.4 L448.7,107.1 L449.3,106.7 L449.8,106.5 L450.3,106.6 L450.8,106.8 L451.2,107.3 L451.8,107.1 L452.2,107.6 L452.8,107.5 L453.2,108.0 L453.8,107.5 L454.2,108.1 L454.8,107.6 L455.3,107.5 L455.7,108.2 L456.3,107.7 L456.8,108.1 L457.3,108.3 L457.7,108.7 L458.2,108.7 L458.7,108.8 L459.3,108.6 L459.8,108.5 L460.3,108.6 L460.7,108.9 L461.2,109.5 L461.6,109.7 L462.2,109.4 L462.7,109.2 L463.2,109.8 L463.7,109.6 L464.2,109.7 L464.8,109.2 L465.1,110.0 L465.7,109.4 L466.2,109.6 L466.7,110.0 L467.2,109.9 L467.6,110.3 L468.1,110.2 L468.6,110.4 L469.2,109.8 L469.7,110.0 L470.2,109.7 L470.7,109.9 L471.1,110.2 L471.7,109.8 L472.1,110.5 L472.7,109.9 L473.2,109.7 L473.7,109.7 L474.2,109.8 L474.7,109.8 L475.2,109.7 L475.7,110.3 L476.2,110.2 L476.6,110.5 L477.1,110.7 L477.6,111.1 L478.1,111.0 L478.6,111.3 L479.1,111.3 L479.6,111.2 L480.1,110.9 L480.6,111.4 L481.1,111.2 L481.5,111.9 L482.1,111.8 L482.6,111.2 L483.1,111.3 L483.6,111.2 L484.2,110.6 L484.6,111.1 L485.2,110.7 L485.6,111.5 L486.1,111.2 L486.6,111.7 L487.1,111.4 L487.6,111.9 L488.1,111.3 L488.6,111.8 L489.1,111.6 L489.6,111.5 L490.1,111.6 L490.6,111.6 L491.1,111.7 L491.6,112.1 L492.1,112.2 L492.6,111.6 L493.1,111.6 L493.6,111.5 L494.1,111.6 L494.6,111.4 L495.1,112.0 L495.6,111.6 L496.1,112.2 L496.6,111.8 L497.1,111.6 L497.6,112.3 L498.1,112.0 L498.6,112.5 L499.1,112.8 L499.6,112.5 L500.1,112.3 L500.6,112.6 L501.2,112.0 L501.6,112.7 L502.1,112.4 L502.7,112.4 L503.2,112.4 L503.7,112.5 L504.1,112.8 L504.7,112.6 L505.2,112.6 L505.7,112.3 L506.2,112.6 L506.7,112.4 L507.2,112.8 L507.7,112.9 L508.2,113.2 L508.7,113.2 L509.2,112.6 L509.7,113.0 L510.2,113.1 L510.7,113.2 L511.2,112.7 L511.7,112.9 L512.2,112.9 L512.7,112.7 L513.2,113.1 L513.7,112.6 L514.2,113.2 L514.7,112.9 L515.1,113.3 L515.6,113.2 L516.1,113.6 L516.6,113.5 L517.1,113.2 L517.6,113.0 L518.1,113.5 L518.6,113.7 L519.1,113.8 L519.6,113.5 L520.1,113.4 L520.6,114.1 L521.1,113.9 L521.6,114.1 L522.1,113.5 L522.6,114.2 L523.1,114.3 L523.6,113.8 L524.1,113.6 L524.6,113.8 L525.1,114.3 L525.6,114.1 L526.1,114.0 L526.6,113.7 L527.1,113.9 L527.5,114.6 L528.1,114.3 L528.6,114.0 L529.1,114.1 L529.6,114.0 L530.1,113.7 L530.6,113.7 L531.1,113.8 L531.6,114.0 L532.1,114.1 L532.6,114.2 L533.1,114.2 L533.6,113.8 L534.1,113.8 L534.6,113.7 L535.1,113.7 L535.5,114.3 L536.0,114.3 L536.5,114.4 L537.0,114.2 L537.5,113.8 L538.0,113.9 L538.5,114.2 L539.0,114.4 L539.5,113.8 L540.0,113.7 L540.5,113.7 L541.0,114.0 L541.5,114.0 L542.0,113.9 L542.5,113.8 L543.0,114.4 L543.5,114.3 L544.0,114.6 L544.5,114.6 L545.0,114.4 L545.5,113.9 L546.0,113.9 L546.5,114.1 L547.0,114.1 L547.5,114.3 L548.0,113.9 L548.5,114.1 L549.0,114.4 L549.5,113.9 L550.0,113.6 L550.5,114.3 L551.0,113.4 L551.5,114.1 L552.0,113.9 L552.5,113.4 L553.0,113.4 L553.5,114.1 L554.0,113.8 L554.5,113.9 L555.0,114.0 L555.5,113.7 L556.0,113.8 L556.5,114.1 L557.0,113.8 L557.5,113.6 L558.0,113.6 L558.5,113.7 L559.0,113.6 L559.5,114.0 L560.0,114.1 L560.5,114.1 L561.0,113.7 L561.5,113.9 L562.0,113.5 L562.5,113.4 L563.0,114.1 L563.5,113.8 L564.0,113.8 L564.5,113.7 L565.0,113.5 L565.5,113.8 L566.0,114.0 L566.5,113.7 L567.0,113.9 L567.5,113.7 L568.0,114.0 L568.5,113.7 L569.0,113.7 L569.5,113.6 L570.0,113.7 L570.5,113.7 L571.0,113.6 L571.5,114.1 L572.0,113.5 L572.5,113.6 L573.0,113.6 L573.5,113.8 L574.0,114.0 L574.5,113.3 L575.0,113.3 L575.5,113.2 L576.0,113.6 L576.5,113.3 L577.0,113.3 L577.5,113.6 L578.0,113.3 L578.5,113.3 L579.0,113.9 L579.5,113.9 L580.0,113.7 L580.5,113.6 L581.0,113.5 L581.5,113.5 L582.0,113.3 L582.5,113.3 L583.0,113.9 L583.5,113.8 L584.0,113.4 L584.5,113.5 L585.0,114.1 L585.5,113.6 L586.0,114.0 L586.5,113.7 L587.0,113.3 L587.5,114.0 L588.0,113.4 L588.5,113.7 L589.0,113.3 L589.5,113.4 L590.0,114.0 L590.5,113.5 L591.0,113.3 L591.5,113.8 L592.0,113.5 L594.2,115.2 L594.5,115.2 L593.5,114.6 L594.0,114.7 L594.5,114.2 L595.0,114.8 L595.5,114.7 L596.0,114.6 L596.5,114.4 L597.0,114.2 L597.5,114.4 L598.0,114.2 L598.5,114.8 L599.0,114.3 L599.5,114.7 L600.0,114.2 L600.5,114.4 L601.0,114.8 L601.5,114.2 L602.0,114.4 L602.5,114.4 L603.0,114.7 L603.5,114.0 L604.0,114.3 L604.5,114.1 L605.0,114.8 L605.5,114.3 L606.0,114.5 L606.5,114.3 L607.0,114.2 L607.5,114.1 L608.0,114.0 L608.5,114.7 L609.0,114.2 L609.5,114.8 L610.0,114.9 L610.5,114.7 L611.0,114.7 L611.5,114.3 L612.0,114.4 L612.5,114.6 L613.0,114.3 L613.5,114.2 L614.0,114.4 L614.5,114.4 L615.0,114.2 L615.5,114.6 L616.0,114.1 L616.5,114.7 L617.0,114.8 L617.5,114.2 L618.0,114.7 L618.5,114.6 L619.0,114.4 L619.5,114.7 L620.0,114.4 L620.5,114.4 L621.0,114.6 L621.5,114.2 L622.0,114.3 L622.5,114.7 L623.0,114.2 L623.5,114.6 L624.0,114.9 L624.5,114.2 L625.0,114.6 L625.5,114.8 L626.0,114.6 L626.5,114.7 L627.0,114.8 L627.5,114.6 L628.0,114.8 L628.5,114.7 L629.0,114.3 L629.5,114.7 L630.0,114.7 L630.5,114.6 L631.0,114.5 L631.5,114.6 L632.0,114.3 L632.5,114.1 L633.0,114.1 L633.5,114.4 L634.0,114.1 L634.5,114.1 L635.0,114.2 L635.5,114.1 L636.0,114.4 L636.5,114.1 L637.0,114.3 L637.5,114.2 L638.0,114.2 L638.5,114.7 L639.0,114.1 L639.5,114.7 L640.0,114.4 L640.5,114.3 L641.0,114.1 L641.5,114.7 L642.0,114.2 L642.5,114.4 L643.0,114.6 L643.5,114.4 L644.0,114.1 L644.5,114.5 L645.0,113.9 L645.0,119.9 L644.5,120.0 L644.0,119.8 L643.5,119.7 L643.0,119.6 L642.5,119.9 L642.0,119.7 L641.5,119.7 L641.0,120.0 L640.5,120.1 L640.0,119.9 L639.5,120.2 L639.0,120.2 L638.5,119.7 L638.0,120.2 L637.5,119.7 L637.0,119.8 L636.5,120.3 L636.0,119.7 L635.5,120.0 L635.0,120.2 L634.5,120.0 L634.0,120.3 L633.5,119.8 L633.0,119.7 L632.5,120.1 L632.0,120.1 L631.5,120.2 L631.0,119.7 L630.5,119.7 L630.0,119.6 L629.5,120.2 L629.0,119.8 L628.5,120.4 L628.0,119.9 L627.5,120.1 L627.0,119.6 L626.5,119.8 L626.0,120.3 L625.5,120.2 L625.0,119.9 L624.5,120.4 L624.0,119.8 L623.5,119.9 L623.0,119.9 L622.5,119.7 L622.0,120.0 L621.5,119.5 L621.0,119.9 L620.5,119.6 L620.0,119.4 L619.5,119.9 L619.0,120.2 L618.5,119.7 L618.0,119.9 L617.5,120.0 L617.0,120.0 L616.5,119.5 L616.0,120.3 L615.5,120.3 L615.0,120.3 L614.5,119.7 L614.0,119.9 L613.5,120.3 L613.0,120.1 L612.5,119.8 L612.0,119.5 L611.5,119.6 L611.0,119.5 L610.5,119.6 L610.0,119.6 L609.5,120.0 L609.0,120.2 L608.5,120.0 L608.0,119.8 L607.5,120.0 L607.0,120.0 L606.5,120.0 L606.0,119.6 L605.5,119.5 L605.0,120.1 L604.5,119.7 L604.0,119.9 L603.5,119.3 L603.0,119.8 L602.5,120.1 L602.0,120.0 L601.5,119.5 L601.0,120.0 L600.5,119.5 L600.0,120.0 L599.5,119.5 L599.0,119.4 L598.5,119.7 L598.0,119.9 L597.5,120.0 L597.0,120.2 L596.5,120.0 L596.0,120.3 L595.5,120.1 L595.0,119.7 L594.5,120.1 L594.0,119.8 L593.5,120.0 L591.2,119.2 L590.8,117.5 L592.0,118.1 L591.5,118.0 L591.0,118.1 L590.5,118.1 L590.0,118.4 L589.5,118.6 L589.0,118.6 L588.5,117.8 L588.0,118.4 L587.5,118.0 L587.0,118.2 L586.5,118.3 L586.0,118.2 L585.5,118.4 L585.0,118.2 L584.5,118.3 L584.0,118.4 L583.5,118.1 L583.0,118.3 L582.5,117.8 L582.0,117.6 L581.5,117.9 L581.0,117.9 L580.5,118.2 L580.0,118.4 L579.5,118.3 L579.0,118.0 L578.5,118.0 L578.0,118.4 L577.5,118.0 L577.0,118.1 L576.5,118.4 L576.0,118.0 L575.5,117.9 L575.0,118.1 L574.5,117.7 L574.0,118.0 L573.5,118.4 L573.0,117.8 L572.5,117.7 L572.0,117.8 L571.5,118.3 L571.0,117.8 L570.5,117.7 L570.0,118.0 L569.5,118.4 L569.0,118.0 L568.5,117.9 L568.0,117.9 L567.5,117.6 L567.0,118.2 L566.5,117.7 L566.0,118.4 L565.5,117.9 L565.0,118.4 L564.5,118.4 L564.0,117.8 L563.5,117.7 L563.0,117.9 L562.5,118.0 L562.0,117.9 L561.5,118.4 L561.0,118.0 L560.5,117.8 L560.0,117.8 L559.5,118.2 L559.0,117.6 L558.5,118.1 L558.0,117.5 L557.5,117.8 L557.0,118.0 L556.5,118.0 L556.0,118.0 L555.5,118.0 L555.0,118.4 L554.5,118.0 L554.0,118.0 L553.5,117.8 L553.0,117.8 L552.5,118.2 L552.0,118.1 L551.5,118.0 L551.0,117.8 L550.5,117.8 L550.0,118.2 L549.5,118.1 L549.0,118.6 L548.5,117.9 L548.0,118.0 L547.5,117.9 L547.0,118.2 L546.5,117.7 L546.0,118.3 L545.5,118.4 L545.0,117.9 L544.5,118.0 L544.0,118.4 L543.5,118.6 L543.0,118.1 L542.5,117.8 L542.0,117.7 L541.5,117.6 L541.0,118.3 L540.5,118.2 L540.0,118.3 L539.5,117.9 L539.0,118.4 L538.5,117.9 L538.0,118.0 L537.5,118.2 L537.0,117.8 L536.5,118.4 L536.0,118.1 L535.5,118.2 L535.0,117.8 L534.5,117.8 L533.9,118.1 L533.4,118.0 L533.0,117.8 L532.4,117.9 L531.9,118.0 L531.4,117.9 L530.9,117.8 L530.4,117.7 L529.9,117.9 L529.4,117.8 L528.9,117.8 L528.4,118.5 L527.9,117.9 L527.4,118.0 L526.9,117.9 L526.4,117.9 L525.9,117.7 L525.4,117.8 L524.9,117.7 L524.4,118.1 L523.9,117.6 L523.4,117.9 L522.9,118.2 L522.4,117.6 L521.9,117.8 L521.4,117.5 L520.9,117.8 L520.4,117.3 L519.9,117.2 L519.4,117.2 L518.9,117.0 L518.4,117.0 L517.9,117.4 L517.4,117.5 L516.9,117.2 L516.4,116.9 L515.9,117.0 L515.4,116.9 L514.9,117.1 L514.4,117.0 L513.9,116.4 L513.4,116.8 L512.9,116.8 L512.3,116.8 L511.8,116.8 L511.3,117.1 L510.8,117.1 L510.3,116.4 L509.8,116.3 L509.3,116.4 L508.8,116.6 L508.3,116.7 L507.8,116.7 L507.3,116.7 L506.8,116.3 L506.3,115.9 L505.8,115.9 L505.3,115.7 L504.8,115.8 L504.3,115.8 L503.8,115.7 L503.3,115.9 L502.8,115.8 L502.4,115.5 L501.9,115.5 L501.3,116.1 L500.8,116.1 L500.4,115.8 L499.9,115.8 L499.3,116.4 L498.8,116.2 L498.3,116.1 L497.9,115.5 L497.4,115.7 L496.9,115.4 L496.4,115.7 L495.9,115.8 L495.4,115.8 L494.9,115.5 L494.4,115.6 L493.9,115.3 L493.4,115.4 L492.9,115.2 L492.4,115.4 L491.9,115.5 L491.4,115.3 L490.9,115.5 L490.4,114.9 L489.9,115.4 L489.4,114.7 L488.9,114.8 L488.4,115.0 L487.9,115.0 L487.4,115.1 L486.8,115.3 L486.4,115.0 L485.9,115.1 L485.3,115.1 L484.9,114.9 L484.4,114.4 L483.9,114.0 L483.4,114.8 L482.9,114.4 L482.3,114.9 L481.8,115.4 L481.3,114.9 L480.8,115.2 L480.3,114.6 L479.9,114.1 L479.3,114.5 L478.9,114.0 L478.3,114.6 L477.9,114.1 L477.3,114.6 L476.9,114.1 L476.3,114.5 L475.8,114.1 L475.4,113.6 L474.9,113.7 L474.4,113.6 L473.9,112.9 L473.3,113.7 L472.9,113.2 L472.3,113.9 L471.8,113.7 L471.3,113.8 L470.8,113.7 L470.3,113.5 L469.8,113.2 L469.3,113.2 L468.8,113.5 L468.3,113.7 L467.8,113.5 L467.2,113.7 L466.8,113.1 L466.3,113.2 L465.7,113.3 L465.3,112.7 L464.7,113.0 L464.3,112.4 L463.7,112.7 L463.3,112.5 L462.7,113.0 L462.2,112.7 L461.7,112.5 L461.2,112.5 L460.7,112.3 L460.2,112.5 L459.7,112.4 L459.2,112.1 L458.8,111.5 L458.2,112.1 L457.7,111.8 L457.2,111.8 L456.8,111.3 L456.3,111.1 L455.8,111.0 L455.2,111.3 L454.8,110.9 L454.2,111.1 L453.7,111.0 L453.2,111.3 L452.7,111.3 L452.2,110.7 L451.8,110.3 L451.2,110.7 L450.8,109.9 L450.3,110.3 L449.8,110.3 L449.4,109.7 L448.8,109.8 L448.3,110.3 L447.8,110.2 L447.3,110.3 L446.8,109.8 L446.3,109.9 L445.8,109.6 L445.4,109.3 L444.9,109.0 L444.4,108.6 L443.9,109.0 L443.4,108.6 L442.9,108.6 L442.4,108.6 L441.9,109.1 L441.4,108.9 L440.9,108.7 L440.4,108.9 L439.9,108.6 L439.3,109.0 L438.9,108.7 L438.4,108.1 L437.9,108.4 L437.3,108.8 L436.9,108.3 L436.4,108.3 L435.8,108.7 L435.3,108.8 L434.9,108.4 L434.3,108.6 L433.9,108.2 L433.4,108.2 L432.9,108.2 L432.3,108.5 L431.8,108.7 L431.3,108.4 L430.8,108.6 L430.3,108.6 L429.8,108.2 L429.4,107.9 L428.9,107.8 L428.4,107.8 L427.9,107.7 L427.4,107.7 L426.9,107.6 L426.4,107.7 L425.8,107.7 L425.4,107.4 L424.8,108.0 L424.3,107.7 L423.8,108.0 L423.3,107.5 L422.8,107.6 L422.4,106.8 L421.9,107.4 L421.4,107.3 L420.9,107.0 L420.4,107.2 L419.9,107.0 L419.4,106.9 L418.9,106.9 L418.3,107.4 L417.9,107.0 L417.4,107.1 L416.9,106.6 L416.4,106.7 L415.9,106.1 L415.4,105.8 L414.9,106.1 L414.4,106.2 L413.9,106.2 L413.4,106.0 L412.9,106.2 L412.4,106.6 L411.9,106.6 L411.3,106.9 L410.9,106.2 L410.4,106.4 L409.9,106.3 L409.3,106.6 L408.8,106.6 L408.4,106.0 L407.9,106.0 L407.4,105.9 L406.8,106.3 L406.3,106.2 L405.8,106.2 L405.3,106.0 L404.9,105.8 L404.4,105.8 L403.8,105.8 L403.4,105.6 L402.8,105.8 L402.4,105.4 L401.9,105.5 L401.4,105.3 L400.9,104.7 L400.4,104.7 L399.9,104.7 L399.4,104.6 L398.9,104.8 L398.4,104.8 L397.9,105.0 L397.3,105.2 L396.9,104.8 L396.3,105.2 L395.8,105.4 L395.4,104.9 L394.9,104.5 L394.4,104.5 L393.9,104.6 L393.4,104.3 L392.9,103.8 L392.4,104.2 L391.9,104.1 L391.4,103.7 L390.9,103.7 L390.4,104.1 L389.9,104.3 L389.4,103.9 L388.9,104.0 L388.4,104.1 L387.9,103.5 L387.4,103.3 L386.9,103.9 L386.4,103.5 L385.9,103.9 L385.3,104.0 L384.8,103.8 L384.4,103.3 L383.9,103.6 L383.4,103.5 L382.9,103.5 L382.4,103.3 L381.8,103.6 L381.4,103.4 L380.8,103.4 L380.3,103.5 L379.9,102.9 L379.4,103.1 L378.9,103.1 L378.3,103.1 L377.8,103.2 L377.4,102.9 L376.9,102.8 L376.4,102.7 L375.8,103.1 L375.3,102.8 L374.8,102.9 L374.4,102.6 L373.8,102.8 L373.4,102.2 L372.8,102.5 L372.4,102.2 L371.8,102.7 L371.4,102.2 L370.8,102.4 L370.3,102.2 L369.8,102.2 L369.3,102.4 L368.8,102.2 L368.4,101.9 L367.9,101.4 L367.4,101.3 L366.9,101.6 L366.3,101.6 L365.9,101.5 L365.3,101.8 L364.8,101.9 L364.3,101.4 L363.8,101.4 L363.3,101.5 L362.8,101.3 L362.3,101.3 L361.9,100.8 L361.4,100.7 L360.9,100.1 L360.4,99.9 L359.9,99.9 L359.4,100.1 L358.8,100.4 L358.3,100.4 L357.9,100.0 L357.3,100.4 L356.8,99.9 L356.3,100.2 L355.8,100.0 L355.2,100.4 L354.8,99.9 L354.3,99.7 L353.7,99.8 L353.3,99.2 L352.8,99.4 L352.3,99.0 L351.8,99.2 L351.3,99.3 L350.8,99.3 L350.3,99.2 L349.8,99.1 L349.3,98.8 L348.8,98.6 L348.4,98.4 L347.8,98.7 L347.3,98.3 L346.9,98.1 L346.4,98.1 L345.8,98.1 L345.4,98.0 L344.9,97.8 L344.3,98.0 L343.9,97.6 L343.4,97.7 L342.9,97.6 L342.4,97.6 L341.8,97.6 L341.3,97.6 L340.8,97.5 L340.4,97.2 L339.8,97.3 L339.3,97.3 L338.8,97.3 L338.3,97.0 L337.9,96.9 L337.3,96.9 L336.9,96.6 L336.4,96.6 L335.9,96.6 L335.3,96.7 L334.9,96.4 L334.3,96.5 L333.8,96.5 L333.4,96.3 L332.8,96.4 L332.4,96.0 L331.9,96.0 L331.3,96.1 L330.8,95.9 L330.4,95.8 L329.8,95.8 L329.4,95.6 L328.8,95.6 L328.3,95.6 L327.8,95.5 L327.3,95.3 L326.8,95.3 L326.3,95.2 L325.8,95.1Z" fill="#808000" stroke="none"/>
</g>
<g stroke="#000" stroke-width="1.1">
<line x1="479.3" y1="104.1" x2="527" y2="91.6"/>
<line x1="306.3" y1="385.8" x2="329.9" y2="361.2"/>
</g>
<g class="tx" font-size="18.7px" fill="#000">
<text x="121.8" y="442.4" text-anchor="end">0.0</text>
<text x="121.8" y="367.2" text-anchor="end">0.2</text>
<text x="121.8" y="292.1" text-anchor="end">0.4</text>
<text x="121.8" y="216.9" text-anchor="end">0.6</text>
<text x="121.8" y="141.8" text-anchor="end">0.8</text>
<text x="121.8" y="66.6" text-anchor="end">1.0</text>
</g>
<g class="tx" font-size="17.2px" fill="#000">
<text transform="translate(133.6,462.2) scale(0.965,1)" text-anchor="middle">1</text>
<text transform="translate(212.2,462.2) scale(0.965,1)" text-anchor="middle">10</text>
<text transform="translate(290.8,462.2) scale(0.965,1)" text-anchor="middle">100</text>
<text transform="translate(369.4,462.2) scale(0.965,1)" text-anchor="middle">1000</text>
<text transform="translate(448.0,462.2) scale(0.965,1)" text-anchor="middle">10000</text>
<text transform="translate(526.6,462.2) scale(0.965,1)" text-anchor="middle">100000</text>
<text transform="translate(605.1,462.2) scale(0.965,1)" text-anchor="middle">1000000</text>
</g>
<g class="tx" font-size="18.7px" fill="#000">
<text x="533.6" y="90.8">L = 35x35</text>
<text x="245.1" y="405.2">L = 10x10</text>
</g>
<text class="tx" x="393.5" y="484.6" font-size="23px" text-anchor="middle" fill="#000">t</text>
<text class="tx" transform="translate(51.0,238.3) rotate(-90)" font-size="23px" letter-spacing="1.1" text-anchor="middle" fill="#000"><tspan font-size="18.3px">ρ</tspan>(t)</text>
</svg>
</body></html>
